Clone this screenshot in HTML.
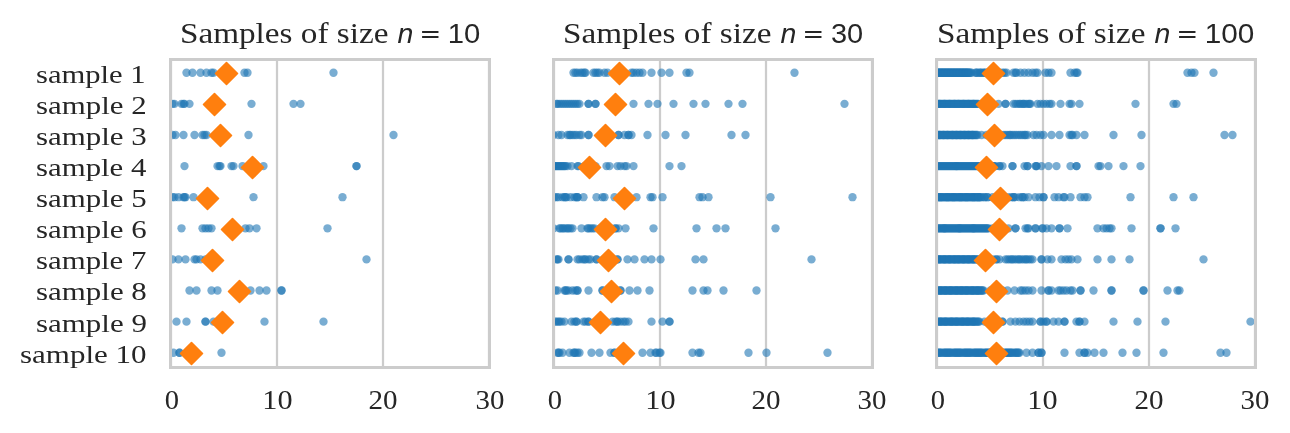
<!DOCTYPE html><html><head><meta charset="utf-8"><title>Samples</title><style>html,body{margin:0;padding:0;background:#fff;overflow:hidden;}svg{display:block;will-change:transform;}</style></head><body>
<svg width="1290" height="433" viewBox="0 0 1290 433">
<rect width="1290" height="433" fill="#fff"/>
<defs>
<clipPath id="c0"><rect x="170.056" y="59.67" width="319.118" height="308.0"/></clipPath>
<clipPath id="c1"><rect x="553.0" y="59.67" width="319.100" height="308.0"/></clipPath>
<clipPath id="c2"><rect x="935.94" y="59.67" width="319.120" height="308.0"/></clipPath>
</defs>
<g shape-rendering="crispEdges">
<rect x="554" y="58" width="1" height="1" fill="#cdcdcd"/>
<rect x="872" y="58" width="1" height="1" fill="#cccccc"/>
<rect x="170" y="58" width="1" height="1" fill="#cccccc"/>
<rect x="169" y="58" width="1" height="1" fill="#cecece"/>
<rect x="936" y="58" width="1" height="1" fill="#cccccc"/>
<rect x="938" y="58" width="316" height="1" fill="#d1d1d1"/>
<rect x="490" y="58" width="1" height="1" fill="#cecece"/>
<rect x="489" y="58" width="1" height="1" fill="#cccccc"/>
<rect x="935" y="58" width="1" height="1" fill="#cecece"/>
<rect x="937" y="58" width="1" height="1" fill="#cdcdcd"/>
<rect x="488" y="58" width="1" height="1" fill="#cdcdcd"/>
<rect x="552" y="58" width="1" height="1" fill="#cecece"/>
<rect x="171" y="58" width="1" height="1" fill="#cdcdcd"/>
<rect x="1254" y="58" width="1" height="1" fill="#cdcdcd"/>
<rect x="1256" y="58" width="1" height="1" fill="#cecece"/>
<rect x="553" y="58" width="1" height="1" fill="#cccccc"/>
<rect x="1255" y="58" width="1" height="1" fill="#cccccc"/>
<rect x="555" y="58" width="316" height="1" fill="#d1d1d1"/>
<rect x="871" y="58" width="1" height="1" fill="#cdcdcd"/>
<rect x="172" y="58" width="316" height="1" fill="#d1d1d1"/>
<rect x="873" y="58" width="1" height="1" fill="#cecece"/>
<rect x="935" y="59" width="322" height="1" fill="#cccccc"/>
<rect x="169" y="59" width="322" height="1" fill="#cccccc"/>
<rect x="552" y="59" width="322" height="1" fill="#cccccc"/>
<rect x="1147" y="60" width="1" height="1" fill="#d0d0d0"/>
<rect x="764" y="60" width="1" height="1" fill="#d0d0d0"/>
<rect x="938" y="60" width="1" height="1" fill="#d0d0d0"/>
<rect x="556" y="60" width="102" height="1" fill="#d1d1d1"/>
<rect x="385" y="60" width="102" height="1" fill="#d1d1d1"/>
<rect x="278" y="60" width="1" height="1" fill="#d0d0d0"/>
<rect x="1253" y="60" width="1" height="1" fill="#d0d0d0"/>
<rect x="1044" y="60" width="1" height="1" fill="#d0d0d0"/>
<rect x="384" y="60" width="1" height="1" fill="#d0d0d0"/>
<rect x="662" y="60" width="102" height="1" fill="#d1d1d1"/>
<rect x="381" y="60" width="1" height="1" fill="#d0d0d0"/>
<rect x="1150" y="60" width="1" height="1" fill="#d0d0d0"/>
<rect x="173" y="60" width="102" height="1" fill="#d1d1d1"/>
<rect x="172" y="60" width="1" height="1" fill="#d0d0d0"/>
<rect x="661" y="60" width="1" height="1" fill="#d0d0d0"/>
<rect x="169" y="60" width="1" height="1" fill="#cdcdcd"/>
<rect x="279" y="60" width="102" height="1" fill="#d1d1d1"/>
<rect x="935" y="60" width="1" height="1" fill="#cdcdcd"/>
<rect x="767" y="60" width="1" height="1" fill="#d0d0d0"/>
<rect x="768" y="60" width="102" height="1" fill="#d1d1d1"/>
<rect x="870" y="60" width="1" height="1" fill="#d0d0d0"/>
<rect x="1045" y="60" width="102" height="1" fill="#d1d1d1"/>
<rect x="939" y="60" width="102" height="1" fill="#d1d1d1"/>
<rect x="275" y="60" width="1" height="1" fill="#d0d0d0"/>
<rect x="552" y="60" width="1" height="1" fill="#cdcdcd"/>
<rect x="487" y="60" width="1" height="1" fill="#d0d0d0"/>
<rect x="1256" y="60" width="1" height="1" fill="#cdcdcd"/>
<rect x="555" y="60" width="1" height="1" fill="#d0d0d0"/>
<rect x="873" y="60" width="1" height="1" fill="#cdcdcd"/>
<rect x="1151" y="60" width="102" height="1" fill="#d1d1d1"/>
<rect x="658" y="60" width="1" height="1" fill="#d0d0d0"/>
<rect x="490" y="60" width="1" height="1" fill="#cdcdcd"/>
<rect x="1041" y="60" width="1" height="1" fill="#d0d0d0"/>
<rect x="870" y="61" width="1" height="305" fill="#f9f9f9"/>
<rect x="767" y="61" width="1" height="305" fill="#f9f9f9"/>
<rect x="169" y="61" width="1" height="305" fill="#d1d1d1"/>
<rect x="275" y="61" width="1" height="305" fill="#f9f9f9"/>
<rect x="935" y="61" width="1" height="305" fill="#d1d1d1"/>
<rect x="487" y="61" width="1" height="305" fill="#f9f9f9"/>
<rect x="552" y="61" width="1" height="305" fill="#d1d1d1"/>
<rect x="555" y="61" width="1" height="305" fill="#f9f9f9"/>
<rect x="1256" y="61" width="1" height="305" fill="#d1d1d1"/>
<rect x="658" y="61" width="1" height="305" fill="#f9f9f9"/>
<rect x="873" y="61" width="1" height="305" fill="#d1d1d1"/>
<rect x="1041" y="61" width="1" height="305" fill="#f9f9f9"/>
<rect x="490" y="61" width="1" height="305" fill="#d1d1d1"/>
<rect x="1147" y="61" width="1" height="305" fill="#f9f9f9"/>
<rect x="764" y="61" width="1" height="305" fill="#f9f9f9"/>
<rect x="938" y="61" width="1" height="305" fill="#f9f9f9"/>
<rect x="278" y="61" width="1" height="305" fill="#f9f9f9"/>
<rect x="1253" y="61" width="1" height="305" fill="#f9f9f9"/>
<rect x="1044" y="61" width="1" height="305" fill="#f9f9f9"/>
<rect x="384" y="61" width="1" height="305" fill="#f9f9f9"/>
<rect x="172" y="61" width="1" height="305" fill="#f9f9f9"/>
<rect x="661" y="61" width="1" height="305" fill="#f9f9f9"/>
<rect x="381" y="61" width="1" height="305" fill="#f9f9f9"/>
<rect x="1150" y="61" width="1" height="305" fill="#f9f9f9"/>
<rect x="659" y="60" width="2" height="307" fill="#cccccc"/>
<rect x="1147" y="366" width="1" height="1" fill="#d0d0d0"/>
<rect x="764" y="366" width="1" height="1" fill="#d0d0d0"/>
<rect x="938" y="366" width="1" height="1" fill="#d0d0d0"/>
<rect x="556" y="366" width="102" height="1" fill="#d1d1d1"/>
<rect x="385" y="366" width="102" height="1" fill="#d1d1d1"/>
<rect x="278" y="366" width="1" height="1" fill="#d0d0d0"/>
<rect x="1253" y="366" width="1" height="1" fill="#d0d0d0"/>
<rect x="1042" y="60" width="2" height="307" fill="#cccccc"/>
<rect x="1044" y="366" width="1" height="1" fill="#d0d0d0"/>
<rect x="382" y="60" width="2" height="307" fill="#cccccc"/>
<rect x="384" y="366" width="1" height="1" fill="#d0d0d0"/>
<rect x="662" y="366" width="102" height="1" fill="#d1d1d1"/>
<rect x="381" y="366" width="1" height="1" fill="#d0d0d0"/>
<rect x="1148" y="60" width="2" height="307" fill="#cccccc"/>
<rect x="1150" y="366" width="1" height="1" fill="#d0d0d0"/>
<rect x="173" y="366" width="102" height="1" fill="#d1d1d1"/>
<rect x="172" y="366" width="1" height="1" fill="#d0d0d0"/>
<rect x="661" y="366" width="1" height="1" fill="#d0d0d0"/>
<rect x="488" y="60" width="2" height="307" fill="#cccccc"/>
<rect x="169" y="366" width="1" height="1" fill="#cdcdcd"/>
<rect x="279" y="366" width="102" height="1" fill="#d1d1d1"/>
<rect x="935" y="366" width="1" height="1" fill="#cdcdcd"/>
<rect x="767" y="366" width="1" height="1" fill="#d0d0d0"/>
<rect x="768" y="366" width="102" height="1" fill="#d1d1d1"/>
<rect x="870" y="366" width="1" height="1" fill="#d0d0d0"/>
<rect x="1045" y="366" width="102" height="1" fill="#d1d1d1"/>
<rect x="1041" y="366" width="1" height="1" fill="#d0d0d0"/>
<rect x="275" y="366" width="1" height="1" fill="#d0d0d0"/>
<rect x="936" y="60" width="2" height="307" fill="#cccccc"/>
<rect x="552" y="366" width="1" height="1" fill="#cdcdcd"/>
<rect x="487" y="366" width="1" height="1" fill="#d0d0d0"/>
<rect x="276" y="60" width="2" height="307" fill="#cccccc"/>
<rect x="1256" y="366" width="1" height="1" fill="#cdcdcd"/>
<rect x="553" y="60" width="2" height="307" fill="#cccccc"/>
<rect x="555" y="366" width="1" height="1" fill="#d0d0d0"/>
<rect x="765" y="60" width="2" height="307" fill="#cccccc"/>
<rect x="873" y="366" width="1" height="1" fill="#cdcdcd"/>
<rect x="1254" y="60" width="2" height="307" fill="#cccccc"/>
<rect x="871" y="60" width="2" height="307" fill="#cccccc"/>
<rect x="1151" y="366" width="102" height="1" fill="#d1d1d1"/>
<rect x="170" y="60" width="2" height="307" fill="#cccccc"/>
<rect x="658" y="366" width="1" height="1" fill="#d0d0d0"/>
<rect x="490" y="366" width="1" height="1" fill="#cdcdcd"/>
<rect x="939" y="366" width="102" height="1" fill="#d1d1d1"/>
<rect x="935" y="367" width="322" height="1" fill="#cccccc"/>
<rect x="169" y="367" width="322" height="1" fill="#cccccc"/>
<rect x="552" y="367" width="322" height="1" fill="#cccccc"/>
<rect x="554" y="368" width="1" height="1" fill="#cdcdcd"/>
<rect x="872" y="368" width="1" height="1" fill="#cccccc"/>
<rect x="170" y="368" width="1" height="1" fill="#cccccc"/>
<rect x="169" y="368" width="1" height="1" fill="#cecece"/>
<rect x="936" y="368" width="1" height="1" fill="#cccccc"/>
<rect x="938" y="368" width="316" height="1" fill="#d1d1d1"/>
<rect x="490" y="368" width="1" height="1" fill="#cecece"/>
<rect x="489" y="368" width="1" height="1" fill="#cccccc"/>
<rect x="935" y="368" width="1" height="1" fill="#cecece"/>
<rect x="937" y="368" width="1" height="1" fill="#cdcdcd"/>
<rect x="488" y="368" width="1" height="1" fill="#cdcdcd"/>
<rect x="552" y="368" width="1" height="1" fill="#cecece"/>
<rect x="171" y="368" width="1" height="1" fill="#cdcdcd"/>
<rect x="1254" y="368" width="1" height="1" fill="#cdcdcd"/>
<rect x="1256" y="368" width="1" height="1" fill="#cecece"/>
<rect x="553" y="368" width="1" height="1" fill="#cccccc"/>
<rect x="1255" y="368" width="1" height="1" fill="#cccccc"/>
<rect x="555" y="368" width="316" height="1" fill="#d1d1d1"/>
<rect x="871" y="368" width="1" height="1" fill="#cdcdcd"/>
<rect x="172" y="368" width="316" height="1" fill="#d1d1d1"/>
<rect x="873" y="368" width="1" height="1" fill="#cecece"/>
</g>
<g clip-path="url(#c0)">
<g fill="#1f77b4" fill-opacity="0.6">
<circle cx="186.5" cy="72.75" r="4.1667"/>
<circle cx="192.5" cy="72.75" r="4.1667"/>
<circle cx="200.5" cy="72.75" r="4.1667"/>
<circle cx="206.5" cy="72.75" r="4.1667"/>
<circle cx="211.5" cy="72.75" r="4.1667"/>
<circle cx="213.5" cy="72.75" r="4.1667"/>
<circle cx="226.5" cy="72.75" r="4.1667"/>
<circle cx="244.5" cy="72.75" r="4.1667"/>
<circle cx="247.5" cy="72.75" r="4.1667"/>
<circle cx="333.5" cy="72.75" r="4.1667"/>
<circle cx="172.5" cy="103.86" r="4.1667"/>
<circle cx="174.5" cy="103.86" r="4.1667"/>
<circle cx="181.5" cy="103.86" r="4.1667"/>
<circle cx="183.5" cy="103.86" r="4.1667"/>
<circle cx="184.5" cy="103.86" r="4.1667"/>
<circle cx="189.5" cy="103.86" r="4.1667"/>
<circle cx="214.5" cy="103.86" r="4.1667"/>
<circle cx="251.5" cy="103.86" r="4.1667"/>
<circle cx="293.5" cy="103.86" r="4.1667"/>
<circle cx="300.5" cy="103.86" r="4.1667"/>
<circle cx="172.5" cy="134.97" r="4.1667"/>
<circle cx="175.5" cy="134.97" r="4.1667"/>
<circle cx="183.5" cy="134.97" r="4.1667"/>
<circle cx="194.5" cy="134.97" r="4.1667"/>
<circle cx="202.5" cy="134.97" r="4.1667"/>
<circle cx="204.5" cy="134.97" r="4.1667"/>
<circle cx="206.5" cy="134.97" r="4.1667"/>
<circle cx="220.5" cy="134.97" r="4.1667"/>
<circle cx="248.5" cy="134.97" r="4.1667"/>
<circle cx="393.5" cy="134.97" r="4.1667"/>
<circle cx="184.5" cy="166.08" r="4.1667"/>
<circle cx="217.5" cy="166.08" r="4.1667"/>
<circle cx="219.5" cy="166.08" r="4.1667"/>
<circle cx="220.5" cy="166.08" r="4.1667"/>
<circle cx="231.5" cy="166.08" r="4.1667"/>
<circle cx="233.5" cy="166.08" r="4.1667"/>
<circle cx="242.5" cy="166.08" r="4.1667"/>
<circle cx="263.5" cy="166.08" r="4.1667"/>
<circle cx="356.5" cy="166.08" r="4.1667"/>
<circle cx="356.5" cy="166.08" r="4.1667"/>
<circle cx="172.5" cy="197.19" r="4.1667"/>
<circle cx="174.5" cy="197.19" r="4.1667"/>
<circle cx="178.5" cy="197.19" r="4.1667"/>
<circle cx="183.5" cy="197.19" r="4.1667"/>
<circle cx="184.5" cy="197.19" r="4.1667"/>
<circle cx="185.5" cy="197.19" r="4.1667"/>
<circle cx="193.5" cy="197.19" r="4.1667"/>
<circle cx="207.5" cy="197.19" r="4.1667"/>
<circle cx="253.5" cy="197.19" r="4.1667"/>
<circle cx="342.5" cy="197.19" r="4.1667"/>
<circle cx="181.5" cy="228.31" r="4.1667"/>
<circle cx="202.5" cy="228.31" r="4.1667"/>
<circle cx="205.5" cy="228.31" r="4.1667"/>
<circle cx="208.5" cy="228.31" r="4.1667"/>
<circle cx="211.5" cy="228.31" r="4.1667"/>
<circle cx="232.5" cy="228.31" r="4.1667"/>
<circle cx="245.5" cy="228.31" r="4.1667"/>
<circle cx="249.5" cy="228.31" r="4.1667"/>
<circle cx="256.5" cy="228.31" r="4.1667"/>
<circle cx="327.5" cy="228.31" r="4.1667"/>
<circle cx="172.5" cy="259.42" r="4.1667"/>
<circle cx="178.5" cy="259.42" r="4.1667"/>
<circle cx="185.5" cy="259.42" r="4.1667"/>
<circle cx="194.5" cy="259.42" r="4.1667"/>
<circle cx="196.5" cy="259.42" r="4.1667"/>
<circle cx="200.5" cy="259.42" r="4.1667"/>
<circle cx="205.5" cy="259.42" r="4.1667"/>
<circle cx="212.5" cy="259.42" r="4.1667"/>
<circle cx="215.5" cy="259.42" r="4.1667"/>
<circle cx="366.5" cy="259.42" r="4.1667"/>
<circle cx="189.5" cy="290.53" r="4.1667"/>
<circle cx="196.5" cy="290.53" r="4.1667"/>
<circle cx="211.5" cy="290.53" r="4.1667"/>
<circle cx="217.5" cy="290.53" r="4.1667"/>
<circle cx="239.5" cy="290.53" r="4.1667"/>
<circle cx="250.5" cy="290.53" r="4.1667"/>
<circle cx="259.5" cy="290.53" r="4.1667"/>
<circle cx="266.5" cy="290.53" r="4.1667"/>
<circle cx="281.5" cy="290.53" r="4.1667"/>
<circle cx="281.5" cy="290.53" r="4.1667"/>
<circle cx="176.5" cy="321.64" r="4.1667"/>
<circle cx="186.5" cy="321.64" r="4.1667"/>
<circle cx="205.5" cy="321.64" r="4.1667"/>
<circle cx="205.5" cy="321.64" r="4.1667"/>
<circle cx="213.5" cy="321.64" r="4.1667"/>
<circle cx="222.5" cy="321.64" r="4.1667"/>
<circle cx="264.5" cy="321.64" r="4.1667"/>
<circle cx="323.5" cy="321.64" r="4.1667"/>
<circle cx="173.5" cy="352.75" r="4.1667"/>
<circle cx="179.5" cy="352.75" r="4.1667"/>
<circle cx="179.5" cy="352.75" r="4.1667"/>
<circle cx="188.5" cy="352.75" r="4.1667"/>
<circle cx="192.5" cy="352.75" r="4.1667"/>
<circle cx="195.5" cy="352.75" r="4.1667"/>
<circle cx="221.5" cy="352.75" r="4.1667"/>
</g><g fill="#ff7f0e" stroke="#ff7f0e" stroke-width="1.6" stroke-linejoin="round">
<path d="M226.5 62.50L237.50 73.5L226.5 84.50L215.50 73.5Z"/>
<path d="M214.5 93.50L225.50 104.5L214.5 115.50L203.50 104.5Z"/>
<path d="M220.5 124.50L231.50 135.5L220.5 146.50L209.50 135.5Z"/>
<path d="M252.5 156.50L263.50 167.5L252.5 178.50L241.50 167.5Z"/>
<path d="M207.5 187.50L218.50 198.5L207.5 209.50L196.50 198.5Z"/>
<path d="M232.5 218.50L243.50 229.5L232.5 240.50L221.50 229.5Z"/>
<path d="M212.5 249.50L223.50 260.5L212.5 271.50L201.50 260.5Z"/>
<path d="M239.5 280.50L250.50 291.5L239.5 302.50L228.50 291.5Z"/>
<path d="M222.5 311.50L233.50 322.5L222.5 333.50L211.50 322.5Z"/>
<path d="M191.5 342.50L202.50 353.5L191.5 364.50L180.50 353.5Z"/>
</g></g>
<g clip-path="url(#c1)">
<g fill="#1f77b4" fill-opacity="0.6">
<circle cx="573.5" cy="72.75" r="4.1667"/>
<circle cx="575.5" cy="72.75" r="4.1667"/>
<circle cx="577.5" cy="72.75" r="4.1667"/>
<circle cx="580.5" cy="72.75" r="4.1667"/>
<circle cx="582.5" cy="72.75" r="4.1667"/>
<circle cx="584.5" cy="72.75" r="4.1667"/>
<circle cx="585.5" cy="72.75" r="4.1667"/>
<circle cx="593.5" cy="72.75" r="4.1667"/>
<circle cx="595.5" cy="72.75" r="4.1667"/>
<circle cx="597.5" cy="72.75" r="4.1667"/>
<circle cx="599.5" cy="72.75" r="4.1667"/>
<circle cx="604.5" cy="72.75" r="4.1667"/>
<circle cx="607.5" cy="72.75" r="4.1667"/>
<circle cx="615.5" cy="72.75" r="4.1667"/>
<circle cx="617.5" cy="72.75" r="4.1667"/>
<circle cx="622.5" cy="72.75" r="4.1667"/>
<circle cx="624.5" cy="72.75" r="4.1667"/>
<circle cx="631.5" cy="72.75" r="4.1667"/>
<circle cx="633.5" cy="72.75" r="4.1667"/>
<circle cx="636.5" cy="72.75" r="4.1667"/>
<circle cx="639.5" cy="72.75" r="4.1667"/>
<circle cx="642.5" cy="72.75" r="4.1667"/>
<circle cx="651.5" cy="72.75" r="4.1667"/>
<circle cx="661.5" cy="72.75" r="4.1667"/>
<circle cx="669.5" cy="72.75" r="4.1667"/>
<circle cx="686.5" cy="72.75" r="4.1667"/>
<circle cx="689.5" cy="72.75" r="4.1667"/>
<circle cx="794.5" cy="72.75" r="4.1667"/>
<circle cx="556.5" cy="103.86" r="4.1667"/>
<circle cx="557.5" cy="103.86" r="4.1667"/>
<circle cx="559.5" cy="103.86" r="4.1667"/>
<circle cx="561.5" cy="103.86" r="4.1667"/>
<circle cx="563.5" cy="103.86" r="4.1667"/>
<circle cx="565.5" cy="103.86" r="4.1667"/>
<circle cx="567.5" cy="103.86" r="4.1667"/>
<circle cx="569.5" cy="103.86" r="4.1667"/>
<circle cx="571.5" cy="103.86" r="4.1667"/>
<circle cx="573.5" cy="103.86" r="4.1667"/>
<circle cx="575.5" cy="103.86" r="4.1667"/>
<circle cx="577.5" cy="103.86" r="4.1667"/>
<circle cx="579.5" cy="103.86" r="4.1667"/>
<circle cx="588.5" cy="103.86" r="4.1667"/>
<circle cx="588.5" cy="103.86" r="4.1667"/>
<circle cx="595.5" cy="103.86" r="4.1667"/>
<circle cx="595.5" cy="103.86" r="4.1667"/>
<circle cx="612.5" cy="103.86" r="4.1667"/>
<circle cx="618.5" cy="103.86" r="4.1667"/>
<circle cx="633.5" cy="103.86" r="4.1667"/>
<circle cx="648.5" cy="103.86" r="4.1667"/>
<circle cx="657.5" cy="103.86" r="4.1667"/>
<circle cx="673.5" cy="103.86" r="4.1667"/>
<circle cx="693.5" cy="103.86" r="4.1667"/>
<circle cx="705.5" cy="103.86" r="4.1667"/>
<circle cx="728.5" cy="103.86" r="4.1667"/>
<circle cx="742.5" cy="103.86" r="4.1667"/>
<circle cx="844.5" cy="103.86" r="4.1667"/>
<circle cx="553.5" cy="134.97" r="4.1667"/>
<circle cx="558.5" cy="134.97" r="4.1667"/>
<circle cx="561.5" cy="134.97" r="4.1667"/>
<circle cx="567.5" cy="134.97" r="4.1667"/>
<circle cx="569.5" cy="134.97" r="4.1667"/>
<circle cx="570.5" cy="134.97" r="4.1667"/>
<circle cx="572.5" cy="134.97" r="4.1667"/>
<circle cx="574.5" cy="134.97" r="4.1667"/>
<circle cx="576.5" cy="134.97" r="4.1667"/>
<circle cx="579.5" cy="134.97" r="4.1667"/>
<circle cx="581.5" cy="134.97" r="4.1667"/>
<circle cx="588.5" cy="134.97" r="4.1667"/>
<circle cx="588.5" cy="134.97" r="4.1667"/>
<circle cx="601.5" cy="134.97" r="4.1667"/>
<circle cx="603.5" cy="134.97" r="4.1667"/>
<circle cx="610.5" cy="134.97" r="4.1667"/>
<circle cx="618.5" cy="134.97" r="4.1667"/>
<circle cx="618.5" cy="134.97" r="4.1667"/>
<circle cx="624.5" cy="134.97" r="4.1667"/>
<circle cx="628.5" cy="134.97" r="4.1667"/>
<circle cx="628.5" cy="134.97" r="4.1667"/>
<circle cx="631.5" cy="134.97" r="4.1667"/>
<circle cx="647.5" cy="134.97" r="4.1667"/>
<circle cx="665.5" cy="134.97" r="4.1667"/>
<circle cx="685.5" cy="134.97" r="4.1667"/>
<circle cx="731.5" cy="134.97" r="4.1667"/>
<circle cx="745.5" cy="134.97" r="4.1667"/>
<circle cx="553.5" cy="166.08" r="4.1667"/>
<circle cx="554.5" cy="166.08" r="4.1667"/>
<circle cx="555.5" cy="166.08" r="4.1667"/>
<circle cx="556.5" cy="166.08" r="4.1667"/>
<circle cx="557.5" cy="166.08" r="4.1667"/>
<circle cx="558.5" cy="166.08" r="4.1667"/>
<circle cx="559.5" cy="166.08" r="4.1667"/>
<circle cx="560.5" cy="166.08" r="4.1667"/>
<circle cx="561.5" cy="166.08" r="4.1667"/>
<circle cx="562.5" cy="166.08" r="4.1667"/>
<circle cx="563.5" cy="166.08" r="4.1667"/>
<circle cx="564.5" cy="166.08" r="4.1667"/>
<circle cx="565.5" cy="166.08" r="4.1667"/>
<circle cx="567.5" cy="166.08" r="4.1667"/>
<circle cx="571.5" cy="166.08" r="4.1667"/>
<circle cx="577.5" cy="166.08" r="4.1667"/>
<circle cx="578.5" cy="166.08" r="4.1667"/>
<circle cx="584.5" cy="166.08" r="4.1667"/>
<circle cx="590.5" cy="166.08" r="4.1667"/>
<circle cx="595.5" cy="166.08" r="4.1667"/>
<circle cx="606.5" cy="166.08" r="4.1667"/>
<circle cx="609.5" cy="166.08" r="4.1667"/>
<circle cx="617.5" cy="166.08" r="4.1667"/>
<circle cx="620.5" cy="166.08" r="4.1667"/>
<circle cx="624.5" cy="166.08" r="4.1667"/>
<circle cx="626.5" cy="166.08" r="4.1667"/>
<circle cx="633.5" cy="166.08" r="4.1667"/>
<circle cx="669.5" cy="166.08" r="4.1667"/>
<circle cx="681.5" cy="166.08" r="4.1667"/>
<circle cx="554.5" cy="197.19" r="4.1667"/>
<circle cx="556.5" cy="197.19" r="4.1667"/>
<circle cx="558.5" cy="197.19" r="4.1667"/>
<circle cx="562.5" cy="197.19" r="4.1667"/>
<circle cx="564.5" cy="197.19" r="4.1667"/>
<circle cx="565.5" cy="197.19" r="4.1667"/>
<circle cx="566.5" cy="197.19" r="4.1667"/>
<circle cx="570.5" cy="197.19" r="4.1667"/>
<circle cx="574.5" cy="197.19" r="4.1667"/>
<circle cx="576.5" cy="197.19" r="4.1667"/>
<circle cx="577.5" cy="197.19" r="4.1667"/>
<circle cx="577.5" cy="197.19" r="4.1667"/>
<circle cx="583.5" cy="197.19" r="4.1667"/>
<circle cx="596.5" cy="197.19" r="4.1667"/>
<circle cx="602.5" cy="197.19" r="4.1667"/>
<circle cx="604.5" cy="197.19" r="4.1667"/>
<circle cx="614.5" cy="197.19" r="4.1667"/>
<circle cx="620.5" cy="197.19" r="4.1667"/>
<circle cx="628.5" cy="197.19" r="4.1667"/>
<circle cx="636.5" cy="197.19" r="4.1667"/>
<circle cx="650.5" cy="197.19" r="4.1667"/>
<circle cx="652.5" cy="197.19" r="4.1667"/>
<circle cx="662.5" cy="197.19" r="4.1667"/>
<circle cx="699.5" cy="197.19" r="4.1667"/>
<circle cx="702.5" cy="197.19" r="4.1667"/>
<circle cx="708.5" cy="197.19" r="4.1667"/>
<circle cx="770.5" cy="197.19" r="4.1667"/>
<circle cx="852.5" cy="197.19" r="4.1667"/>
<circle cx="553.5" cy="228.31" r="4.1667"/>
<circle cx="559.5" cy="228.31" r="4.1667"/>
<circle cx="560.5" cy="228.31" r="4.1667"/>
<circle cx="562.5" cy="228.31" r="4.1667"/>
<circle cx="563.5" cy="228.31" r="4.1667"/>
<circle cx="565.5" cy="228.31" r="4.1667"/>
<circle cx="567.5" cy="228.31" r="4.1667"/>
<circle cx="568.5" cy="228.31" r="4.1667"/>
<circle cx="570.5" cy="228.31" r="4.1667"/>
<circle cx="572.5" cy="228.31" r="4.1667"/>
<circle cx="581.5" cy="228.31" r="4.1667"/>
<circle cx="587.5" cy="228.31" r="4.1667"/>
<circle cx="588.5" cy="228.31" r="4.1667"/>
<circle cx="590.5" cy="228.31" r="4.1667"/>
<circle cx="592.5" cy="228.31" r="4.1667"/>
<circle cx="594.5" cy="228.31" r="4.1667"/>
<circle cx="600.5" cy="228.31" r="4.1667"/>
<circle cx="605.5" cy="228.31" r="4.1667"/>
<circle cx="610.5" cy="228.31" r="4.1667"/>
<circle cx="615.5" cy="228.31" r="4.1667"/>
<circle cx="615.5" cy="228.31" r="4.1667"/>
<circle cx="618.5" cy="228.31" r="4.1667"/>
<circle cx="625.5" cy="228.31" r="4.1667"/>
<circle cx="653.5" cy="228.31" r="4.1667"/>
<circle cx="696.5" cy="228.31" r="4.1667"/>
<circle cx="716.5" cy="228.31" r="4.1667"/>
<circle cx="725.5" cy="228.31" r="4.1667"/>
<circle cx="775.5" cy="228.31" r="4.1667"/>
<circle cx="556.5" cy="259.42" r="4.1667"/>
<circle cx="557.5" cy="259.42" r="4.1667"/>
<circle cx="558.5" cy="259.42" r="4.1667"/>
<circle cx="568.5" cy="259.42" r="4.1667"/>
<circle cx="568.5" cy="259.42" r="4.1667"/>
<circle cx="577.5" cy="259.42" r="4.1667"/>
<circle cx="579.5" cy="259.42" r="4.1667"/>
<circle cx="582.5" cy="259.42" r="4.1667"/>
<circle cx="584.5" cy="259.42" r="4.1667"/>
<circle cx="585.5" cy="259.42" r="4.1667"/>
<circle cx="588.5" cy="259.42" r="4.1667"/>
<circle cx="590.5" cy="259.42" r="4.1667"/>
<circle cx="596.5" cy="259.42" r="4.1667"/>
<circle cx="596.5" cy="259.42" r="4.1667"/>
<circle cx="603.5" cy="259.42" r="4.1667"/>
<circle cx="613.5" cy="259.42" r="4.1667"/>
<circle cx="617.5" cy="259.42" r="4.1667"/>
<circle cx="617.5" cy="259.42" r="4.1667"/>
<circle cx="627.5" cy="259.42" r="4.1667"/>
<circle cx="634.5" cy="259.42" r="4.1667"/>
<circle cx="644.5" cy="259.42" r="4.1667"/>
<circle cx="651.5" cy="259.42" r="4.1667"/>
<circle cx="660.5" cy="259.42" r="4.1667"/>
<circle cx="695.5" cy="259.42" r="4.1667"/>
<circle cx="703.5" cy="259.42" r="4.1667"/>
<circle cx="811.5" cy="259.42" r="4.1667"/>
<circle cx="555.5" cy="290.53" r="4.1667"/>
<circle cx="557.5" cy="290.53" r="4.1667"/>
<circle cx="564.5" cy="290.53" r="4.1667"/>
<circle cx="565.5" cy="290.53" r="4.1667"/>
<circle cx="566.5" cy="290.53" r="4.1667"/>
<circle cx="568.5" cy="290.53" r="4.1667"/>
<circle cx="572.5" cy="290.53" r="4.1667"/>
<circle cx="575.5" cy="290.53" r="4.1667"/>
<circle cx="577.5" cy="290.53" r="4.1667"/>
<circle cx="577.5" cy="290.53" r="4.1667"/>
<circle cx="588.5" cy="290.53" r="4.1667"/>
<circle cx="602.5" cy="290.53" r="4.1667"/>
<circle cx="602.5" cy="290.53" r="4.1667"/>
<circle cx="608.5" cy="290.53" r="4.1667"/>
<circle cx="615.5" cy="290.53" r="4.1667"/>
<circle cx="620.5" cy="290.53" r="4.1667"/>
<circle cx="620.5" cy="290.53" r="4.1667"/>
<circle cx="629.5" cy="290.53" r="4.1667"/>
<circle cx="637.5" cy="290.53" r="4.1667"/>
<circle cx="649.5" cy="290.53" r="4.1667"/>
<circle cx="692.5" cy="290.53" r="4.1667"/>
<circle cx="703.5" cy="290.53" r="4.1667"/>
<circle cx="707.5" cy="290.53" r="4.1667"/>
<circle cx="723.5" cy="290.53" r="4.1667"/>
<circle cx="756.5" cy="290.53" r="4.1667"/>
<circle cx="555.5" cy="321.64" r="4.1667"/>
<circle cx="556.5" cy="321.64" r="4.1667"/>
<circle cx="558.5" cy="321.64" r="4.1667"/>
<circle cx="559.5" cy="321.64" r="4.1667"/>
<circle cx="561.5" cy="321.64" r="4.1667"/>
<circle cx="564.5" cy="321.64" r="4.1667"/>
<circle cx="571.5" cy="321.64" r="4.1667"/>
<circle cx="574.5" cy="321.64" r="4.1667"/>
<circle cx="576.5" cy="321.64" r="4.1667"/>
<circle cx="576.5" cy="321.64" r="4.1667"/>
<circle cx="583.5" cy="321.64" r="4.1667"/>
<circle cx="585.5" cy="321.64" r="4.1667"/>
<circle cx="588.5" cy="321.64" r="4.1667"/>
<circle cx="588.5" cy="321.64" r="4.1667"/>
<circle cx="595.5" cy="321.64" r="4.1667"/>
<circle cx="605.5" cy="321.64" r="4.1667"/>
<circle cx="612.5" cy="321.64" r="4.1667"/>
<circle cx="615.5" cy="321.64" r="4.1667"/>
<circle cx="617.5" cy="321.64" r="4.1667"/>
<circle cx="617.5" cy="321.64" r="4.1667"/>
<circle cx="620.5" cy="321.64" r="4.1667"/>
<circle cx="623.5" cy="321.64" r="4.1667"/>
<circle cx="625.5" cy="321.64" r="4.1667"/>
<circle cx="628.5" cy="321.64" r="4.1667"/>
<circle cx="651.5" cy="321.64" r="4.1667"/>
<circle cx="662.5" cy="321.64" r="4.1667"/>
<circle cx="669.5" cy="321.64" r="4.1667"/>
<circle cx="669.5" cy="321.64" r="4.1667"/>
<circle cx="557.5" cy="352.75" r="4.1667"/>
<circle cx="558.5" cy="352.75" r="4.1667"/>
<circle cx="559.5" cy="352.75" r="4.1667"/>
<circle cx="562.5" cy="352.75" r="4.1667"/>
<circle cx="569.5" cy="352.75" r="4.1667"/>
<circle cx="573.5" cy="352.75" r="4.1667"/>
<circle cx="574.5" cy="352.75" r="4.1667"/>
<circle cx="575.5" cy="352.75" r="4.1667"/>
<circle cx="577.5" cy="352.75" r="4.1667"/>
<circle cx="579.5" cy="352.75" r="4.1667"/>
<circle cx="591.5" cy="352.75" r="4.1667"/>
<circle cx="599.5" cy="352.75" r="4.1667"/>
<circle cx="610.5" cy="352.75" r="4.1667"/>
<circle cx="614.5" cy="352.75" r="4.1667"/>
<circle cx="614.5" cy="352.75" r="4.1667"/>
<circle cx="620.5" cy="352.75" r="4.1667"/>
<circle cx="628.5" cy="352.75" r="4.1667"/>
<circle cx="642.5" cy="352.75" r="4.1667"/>
<circle cx="650.5" cy="352.75" r="4.1667"/>
<circle cx="655.5" cy="352.75" r="4.1667"/>
<circle cx="656.5" cy="352.75" r="4.1667"/>
<circle cx="659.5" cy="352.75" r="4.1667"/>
<circle cx="660.5" cy="352.75" r="4.1667"/>
<circle cx="692.5" cy="352.75" r="4.1667"/>
<circle cx="698.5" cy="352.75" r="4.1667"/>
<circle cx="700.5" cy="352.75" r="4.1667"/>
<circle cx="748.5" cy="352.75" r="4.1667"/>
<circle cx="766.5" cy="352.75" r="4.1667"/>
<circle cx="827.5" cy="352.75" r="4.1667"/>
</g><g fill="#ff7f0e" stroke="#ff7f0e" stroke-width="1.6" stroke-linejoin="round">
<path d="M619.5 62.50L630.50 73.5L619.5 84.50L608.50 73.5Z"/>
<path d="M615.5 93.50L626.50 104.5L615.5 115.50L604.50 104.5Z"/>
<path d="M605.5 124.50L616.50 135.5L605.5 146.50L594.50 135.5Z"/>
<path d="M589.5 156.50L600.50 167.5L589.5 178.50L578.50 167.5Z"/>
<path d="M624.5 187.50L635.50 198.5L624.5 209.50L613.50 198.5Z"/>
<path d="M605.5 218.50L616.50 229.5L605.5 240.50L594.50 229.5Z"/>
<path d="M608.5 249.50L619.50 260.5L608.5 271.50L597.50 260.5Z"/>
<path d="M611.5 280.50L622.50 291.5L611.5 302.50L600.50 291.5Z"/>
<path d="M600.5 311.50L611.50 322.5L600.5 333.50L589.50 322.5Z"/>
<path d="M623.5 342.50L634.50 353.5L623.5 364.50L612.50 353.5Z"/>
</g></g>
<g clip-path="url(#c2)">
<g fill="#1f77b4" fill-opacity="0.6">
<circle cx="937.5" cy="72.75" r="4.1667"/>
<circle cx="938.5" cy="72.75" r="4.1667"/>
<circle cx="938.5" cy="72.75" r="4.1667"/>
<circle cx="939.5" cy="72.75" r="4.1667"/>
<circle cx="939.5" cy="72.75" r="4.1667"/>
<circle cx="940.5" cy="72.75" r="4.1667"/>
<circle cx="941.5" cy="72.75" r="4.1667"/>
<circle cx="941.5" cy="72.75" r="4.1667"/>
<circle cx="942.5" cy="72.75" r="4.1667"/>
<circle cx="942.5" cy="72.75" r="4.1667"/>
<circle cx="943.5" cy="72.75" r="4.1667"/>
<circle cx="944.5" cy="72.75" r="4.1667"/>
<circle cx="944.5" cy="72.75" r="4.1667"/>
<circle cx="945.5" cy="72.75" r="4.1667"/>
<circle cx="945.5" cy="72.75" r="4.1667"/>
<circle cx="946.5" cy="72.75" r="4.1667"/>
<circle cx="947.5" cy="72.75" r="4.1667"/>
<circle cx="947.5" cy="72.75" r="4.1667"/>
<circle cx="948.5" cy="72.75" r="4.1667"/>
<circle cx="948.5" cy="72.75" r="4.1667"/>
<circle cx="949.5" cy="72.75" r="4.1667"/>
<circle cx="950.5" cy="72.75" r="4.1667"/>
<circle cx="950.5" cy="72.75" r="4.1667"/>
<circle cx="951.5" cy="72.75" r="4.1667"/>
<circle cx="951.5" cy="72.75" r="4.1667"/>
<circle cx="952.5" cy="72.75" r="4.1667"/>
<circle cx="953.5" cy="72.75" r="4.1667"/>
<circle cx="953.5" cy="72.75" r="4.1667"/>
<circle cx="954.5" cy="72.75" r="4.1667"/>
<circle cx="954.5" cy="72.75" r="4.1667"/>
<circle cx="955.5" cy="72.75" r="4.1667"/>
<circle cx="956.5" cy="72.75" r="4.1667"/>
<circle cx="956.5" cy="72.75" r="4.1667"/>
<circle cx="957.5" cy="72.75" r="4.1667"/>
<circle cx="957.5" cy="72.75" r="4.1667"/>
<circle cx="958.5" cy="72.75" r="4.1667"/>
<circle cx="959.5" cy="72.75" r="4.1667"/>
<circle cx="959.5" cy="72.75" r="4.1667"/>
<circle cx="960.5" cy="72.75" r="4.1667"/>
<circle cx="960.5" cy="72.75" r="4.1667"/>
<circle cx="961.5" cy="72.75" r="4.1667"/>
<circle cx="962.5" cy="72.75" r="4.1667"/>
<circle cx="962.5" cy="72.75" r="4.1667"/>
<circle cx="963.5" cy="72.75" r="4.1667"/>
<circle cx="963.5" cy="72.75" r="4.1667"/>
<circle cx="964.5" cy="72.75" r="4.1667"/>
<circle cx="965.5" cy="72.75" r="4.1667"/>
<circle cx="965.5" cy="72.75" r="4.1667"/>
<circle cx="966.5" cy="72.75" r="4.1667"/>
<circle cx="966.5" cy="72.75" r="4.1667"/>
<circle cx="967.5" cy="72.75" r="4.1667"/>
<circle cx="968.5" cy="72.75" r="4.1667"/>
<circle cx="968.5" cy="72.75" r="4.1667"/>
<circle cx="969.5" cy="72.75" r="4.1667"/>
<circle cx="970.5" cy="72.75" r="4.1667"/>
<circle cx="971.5" cy="72.75" r="4.1667"/>
<circle cx="975.5" cy="72.75" r="4.1667"/>
<circle cx="977.5" cy="72.75" r="4.1667"/>
<circle cx="979.5" cy="72.75" r="4.1667"/>
<circle cx="981.5" cy="72.75" r="4.1667"/>
<circle cx="983.5" cy="72.75" r="4.1667"/>
<circle cx="985.5" cy="72.75" r="4.1667"/>
<circle cx="987.5" cy="72.75" r="4.1667"/>
<circle cx="991.5" cy="72.75" r="4.1667"/>
<circle cx="996.5" cy="72.75" r="4.1667"/>
<circle cx="999.5" cy="72.75" r="4.1667"/>
<circle cx="1002.5" cy="72.75" r="4.1667"/>
<circle cx="1004.5" cy="72.75" r="4.1667"/>
<circle cx="1006.5" cy="72.75" r="4.1667"/>
<circle cx="1015.5" cy="72.75" r="4.1667"/>
<circle cx="976.5" cy="72.75" r="4.1667"/>
<circle cx="980.5" cy="72.75" r="4.1667"/>
<circle cx="984.5" cy="72.75" r="4.1667"/>
<circle cx="1013.5" cy="72.75" r="4.1667"/>
<circle cx="1016.5" cy="72.75" r="4.1667"/>
<circle cx="1020.5" cy="72.75" r="4.1667"/>
<circle cx="1024.5" cy="72.75" r="4.1667"/>
<circle cx="1028.5" cy="72.75" r="4.1667"/>
<circle cx="1032.5" cy="72.75" r="4.1667"/>
<circle cx="1035.5" cy="72.75" r="4.1667"/>
<circle cx="1037.5" cy="72.75" r="4.1667"/>
<circle cx="1045.5" cy="72.75" r="4.1667"/>
<circle cx="1048.5" cy="72.75" r="4.1667"/>
<circle cx="1051.5" cy="72.75" r="4.1667"/>
<circle cx="1070.5" cy="72.75" r="4.1667"/>
<circle cx="1074.5" cy="72.75" r="4.1667"/>
<circle cx="1076.5" cy="72.75" r="4.1667"/>
<circle cx="1077.5" cy="72.75" r="4.1667"/>
<circle cx="1187.5" cy="72.75" r="4.1667"/>
<circle cx="1191.5" cy="72.75" r="4.1667"/>
<circle cx="1194.5" cy="72.75" r="4.1667"/>
<circle cx="1213.5" cy="72.75" r="4.1667"/>
<circle cx="937.5" cy="103.86" r="4.1667"/>
<circle cx="938.5" cy="103.86" r="4.1667"/>
<circle cx="939.5" cy="103.86" r="4.1667"/>
<circle cx="939.5" cy="103.86" r="4.1667"/>
<circle cx="940.5" cy="103.86" r="4.1667"/>
<circle cx="941.5" cy="103.86" r="4.1667"/>
<circle cx="942.5" cy="103.86" r="4.1667"/>
<circle cx="943.5" cy="103.86" r="4.1667"/>
<circle cx="944.5" cy="103.86" r="4.1667"/>
<circle cx="944.5" cy="103.86" r="4.1667"/>
<circle cx="945.5" cy="103.86" r="4.1667"/>
<circle cx="946.5" cy="103.86" r="4.1667"/>
<circle cx="947.5" cy="103.86" r="4.1667"/>
<circle cx="948.5" cy="103.86" r="4.1667"/>
<circle cx="949.5" cy="103.86" r="4.1667"/>
<circle cx="949.5" cy="103.86" r="4.1667"/>
<circle cx="950.5" cy="103.86" r="4.1667"/>
<circle cx="951.5" cy="103.86" r="4.1667"/>
<circle cx="952.5" cy="103.86" r="4.1667"/>
<circle cx="953.5" cy="103.86" r="4.1667"/>
<circle cx="954.5" cy="103.86" r="4.1667"/>
<circle cx="954.5" cy="103.86" r="4.1667"/>
<circle cx="955.5" cy="103.86" r="4.1667"/>
<circle cx="956.5" cy="103.86" r="4.1667"/>
<circle cx="957.5" cy="103.86" r="4.1667"/>
<circle cx="958.5" cy="103.86" r="4.1667"/>
<circle cx="958.5" cy="103.86" r="4.1667"/>
<circle cx="959.5" cy="103.86" r="4.1667"/>
<circle cx="960.5" cy="103.86" r="4.1667"/>
<circle cx="961.5" cy="103.86" r="4.1667"/>
<circle cx="962.5" cy="103.86" r="4.1667"/>
<circle cx="963.5" cy="103.86" r="4.1667"/>
<circle cx="963.5" cy="103.86" r="4.1667"/>
<circle cx="964.5" cy="103.86" r="4.1667"/>
<circle cx="965.5" cy="103.86" r="4.1667"/>
<circle cx="966.5" cy="103.86" r="4.1667"/>
<circle cx="967.5" cy="103.86" r="4.1667"/>
<circle cx="968.5" cy="103.86" r="4.1667"/>
<circle cx="968.5" cy="103.86" r="4.1667"/>
<circle cx="969.5" cy="103.86" r="4.1667"/>
<circle cx="970.5" cy="103.86" r="4.1667"/>
<circle cx="971.5" cy="103.86" r="4.1667"/>
<circle cx="972.5" cy="103.86" r="4.1667"/>
<circle cx="973.5" cy="103.86" r="4.1667"/>
<circle cx="973.5" cy="103.86" r="4.1667"/>
<circle cx="974.5" cy="103.86" r="4.1667"/>
<circle cx="975.5" cy="103.86" r="4.1667"/>
<circle cx="976.5" cy="103.86" r="4.1667"/>
<circle cx="977.5" cy="103.86" r="4.1667"/>
<circle cx="978.5" cy="103.86" r="4.1667"/>
<circle cx="982.5" cy="103.86" r="4.1667"/>
<circle cx="987.5" cy="103.86" r="4.1667"/>
<circle cx="992.5" cy="103.86" r="4.1667"/>
<circle cx="998.5" cy="103.86" r="4.1667"/>
<circle cx="1005.5" cy="103.86" r="4.1667"/>
<circle cx="1005.5" cy="103.86" r="4.1667"/>
<circle cx="1015.5" cy="103.86" r="4.1667"/>
<circle cx="1019.5" cy="103.86" r="4.1667"/>
<circle cx="1023.5" cy="103.86" r="4.1667"/>
<circle cx="1026.5" cy="103.86" r="4.1667"/>
<circle cx="1029.5" cy="103.86" r="4.1667"/>
<circle cx="1013.5" cy="103.86" r="4.1667"/>
<circle cx="1017.5" cy="103.86" r="4.1667"/>
<circle cx="1020.5" cy="103.86" r="4.1667"/>
<circle cx="1022.5" cy="103.86" r="4.1667"/>
<circle cx="1024.5" cy="103.86" r="4.1667"/>
<circle cx="1028.5" cy="103.86" r="4.1667"/>
<circle cx="1030.5" cy="103.86" r="4.1667"/>
<circle cx="1037.5" cy="103.86" r="4.1667"/>
<circle cx="1040.5" cy="103.86" r="4.1667"/>
<circle cx="1043.5" cy="103.86" r="4.1667"/>
<circle cx="1046.5" cy="103.86" r="4.1667"/>
<circle cx="1049.5" cy="103.86" r="4.1667"/>
<circle cx="1051.5" cy="103.86" r="4.1667"/>
<circle cx="1060.5" cy="103.86" r="4.1667"/>
<circle cx="1069.5" cy="103.86" r="4.1667"/>
<circle cx="1071.5" cy="103.86" r="4.1667"/>
<circle cx="1079.5" cy="103.86" r="4.1667"/>
<circle cx="1135.5" cy="103.86" r="4.1667"/>
<circle cx="1173.5" cy="103.86" r="4.1667"/>
<circle cx="1176.5" cy="103.86" r="4.1667"/>
<circle cx="937.5" cy="134.97" r="4.1667"/>
<circle cx="938.5" cy="134.97" r="4.1667"/>
<circle cx="939.5" cy="134.97" r="4.1667"/>
<circle cx="939.5" cy="134.97" r="4.1667"/>
<circle cx="940.5" cy="134.97" r="4.1667"/>
<circle cx="941.5" cy="134.97" r="4.1667"/>
<circle cx="942.5" cy="134.97" r="4.1667"/>
<circle cx="943.5" cy="134.97" r="4.1667"/>
<circle cx="943.5" cy="134.97" r="4.1667"/>
<circle cx="944.5" cy="134.97" r="4.1667"/>
<circle cx="945.5" cy="134.97" r="4.1667"/>
<circle cx="946.5" cy="134.97" r="4.1667"/>
<circle cx="947.5" cy="134.97" r="4.1667"/>
<circle cx="947.5" cy="134.97" r="4.1667"/>
<circle cx="948.5" cy="134.97" r="4.1667"/>
<circle cx="949.5" cy="134.97" r="4.1667"/>
<circle cx="950.5" cy="134.97" r="4.1667"/>
<circle cx="951.5" cy="134.97" r="4.1667"/>
<circle cx="952.5" cy="134.97" r="4.1667"/>
<circle cx="952.5" cy="134.97" r="4.1667"/>
<circle cx="953.5" cy="134.97" r="4.1667"/>
<circle cx="954.5" cy="134.97" r="4.1667"/>
<circle cx="955.5" cy="134.97" r="4.1667"/>
<circle cx="956.5" cy="134.97" r="4.1667"/>
<circle cx="956.5" cy="134.97" r="4.1667"/>
<circle cx="957.5" cy="134.97" r="4.1667"/>
<circle cx="958.5" cy="134.97" r="4.1667"/>
<circle cx="959.5" cy="134.97" r="4.1667"/>
<circle cx="960.5" cy="134.97" r="4.1667"/>
<circle cx="960.5" cy="134.97" r="4.1667"/>
<circle cx="961.5" cy="134.97" r="4.1667"/>
<circle cx="962.5" cy="134.97" r="4.1667"/>
<circle cx="963.5" cy="134.97" r="4.1667"/>
<circle cx="964.5" cy="134.97" r="4.1667"/>
<circle cx="964.5" cy="134.97" r="4.1667"/>
<circle cx="965.5" cy="134.97" r="4.1667"/>
<circle cx="966.5" cy="134.97" r="4.1667"/>
<circle cx="967.5" cy="134.97" r="4.1667"/>
<circle cx="968.5" cy="134.97" r="4.1667"/>
<circle cx="968.5" cy="134.97" r="4.1667"/>
<circle cx="969.5" cy="134.97" r="4.1667"/>
<circle cx="970.5" cy="134.97" r="4.1667"/>
<circle cx="971.5" cy="134.97" r="4.1667"/>
<circle cx="972.5" cy="134.97" r="4.1667"/>
<circle cx="972.5" cy="134.97" r="4.1667"/>
<circle cx="973.5" cy="134.97" r="4.1667"/>
<circle cx="974.5" cy="134.97" r="4.1667"/>
<circle cx="975.5" cy="134.97" r="4.1667"/>
<circle cx="976.5" cy="134.97" r="4.1667"/>
<circle cx="977.5" cy="134.97" r="4.1667"/>
<circle cx="981.5" cy="134.97" r="4.1667"/>
<circle cx="986.5" cy="134.97" r="4.1667"/>
<circle cx="990.5" cy="134.97" r="4.1667"/>
<circle cx="995.5" cy="134.97" r="4.1667"/>
<circle cx="1000.5" cy="134.97" r="4.1667"/>
<circle cx="1003.5" cy="134.97" r="4.1667"/>
<circle cx="1005.5" cy="134.97" r="4.1667"/>
<circle cx="1009.5" cy="134.97" r="4.1667"/>
<circle cx="1012.5" cy="134.97" r="4.1667"/>
<circle cx="1020.5" cy="134.97" r="4.1667"/>
<circle cx="1024.5" cy="134.97" r="4.1667"/>
<circle cx="1007.5" cy="134.97" r="4.1667"/>
<circle cx="1010.5" cy="134.97" r="4.1667"/>
<circle cx="1014.5" cy="134.97" r="4.1667"/>
<circle cx="1016.5" cy="134.97" r="4.1667"/>
<circle cx="1018.5" cy="134.97" r="4.1667"/>
<circle cx="1022.5" cy="134.97" r="4.1667"/>
<circle cx="1025.5" cy="134.97" r="4.1667"/>
<circle cx="1027.5" cy="134.97" r="4.1667"/>
<circle cx="1033.5" cy="134.97" r="4.1667"/>
<circle cx="1036.5" cy="134.97" r="4.1667"/>
<circle cx="1040.5" cy="134.97" r="4.1667"/>
<circle cx="1043.5" cy="134.97" r="4.1667"/>
<circle cx="1051.5" cy="134.97" r="4.1667"/>
<circle cx="1059.5" cy="134.97" r="4.1667"/>
<circle cx="1069.5" cy="134.97" r="4.1667"/>
<circle cx="1071.5" cy="134.97" r="4.1667"/>
<circle cx="1072.5" cy="134.97" r="4.1667"/>
<circle cx="1076.5" cy="134.97" r="4.1667"/>
<circle cx="1084.5" cy="134.97" r="4.1667"/>
<circle cx="1113.5" cy="134.97" r="4.1667"/>
<circle cx="1141.5" cy="134.97" r="4.1667"/>
<circle cx="1224.5" cy="134.97" r="4.1667"/>
<circle cx="1232.5" cy="134.97" r="4.1667"/>
<circle cx="937.5" cy="166.08" r="4.1667"/>
<circle cx="938.5" cy="166.08" r="4.1667"/>
<circle cx="939.5" cy="166.08" r="4.1667"/>
<circle cx="940.5" cy="166.08" r="4.1667"/>
<circle cx="941.5" cy="166.08" r="4.1667"/>
<circle cx="942.5" cy="166.08" r="4.1667"/>
<circle cx="943.5" cy="166.08" r="4.1667"/>
<circle cx="944.5" cy="166.08" r="4.1667"/>
<circle cx="945.5" cy="166.08" r="4.1667"/>
<circle cx="946.5" cy="166.08" r="4.1667"/>
<circle cx="947.5" cy="166.08" r="4.1667"/>
<circle cx="948.5" cy="166.08" r="4.1667"/>
<circle cx="949.5" cy="166.08" r="4.1667"/>
<circle cx="950.5" cy="166.08" r="4.1667"/>
<circle cx="951.5" cy="166.08" r="4.1667"/>
<circle cx="952.5" cy="166.08" r="4.1667"/>
<circle cx="953.5" cy="166.08" r="4.1667"/>
<circle cx="954.5" cy="166.08" r="4.1667"/>
<circle cx="955.5" cy="166.08" r="4.1667"/>
<circle cx="956.5" cy="166.08" r="4.1667"/>
<circle cx="956.5" cy="166.08" r="4.1667"/>
<circle cx="957.5" cy="166.08" r="4.1667"/>
<circle cx="958.5" cy="166.08" r="4.1667"/>
<circle cx="959.5" cy="166.08" r="4.1667"/>
<circle cx="960.5" cy="166.08" r="4.1667"/>
<circle cx="961.5" cy="166.08" r="4.1667"/>
<circle cx="962.5" cy="166.08" r="4.1667"/>
<circle cx="963.5" cy="166.08" r="4.1667"/>
<circle cx="964.5" cy="166.08" r="4.1667"/>
<circle cx="965.5" cy="166.08" r="4.1667"/>
<circle cx="966.5" cy="166.08" r="4.1667"/>
<circle cx="967.5" cy="166.08" r="4.1667"/>
<circle cx="968.5" cy="166.08" r="4.1667"/>
<circle cx="969.5" cy="166.08" r="4.1667"/>
<circle cx="970.5" cy="166.08" r="4.1667"/>
<circle cx="971.5" cy="166.08" r="4.1667"/>
<circle cx="972.5" cy="166.08" r="4.1667"/>
<circle cx="973.5" cy="166.08" r="4.1667"/>
<circle cx="974.5" cy="166.08" r="4.1667"/>
<circle cx="975.5" cy="166.08" r="4.1667"/>
<circle cx="976.5" cy="166.08" r="4.1667"/>
<circle cx="977.5" cy="166.08" r="4.1667"/>
<circle cx="978.5" cy="166.08" r="4.1667"/>
<circle cx="979.5" cy="166.08" r="4.1667"/>
<circle cx="980.5" cy="166.08" r="4.1667"/>
<circle cx="981.5" cy="166.08" r="4.1667"/>
<circle cx="982.5" cy="166.08" r="4.1667"/>
<circle cx="983.5" cy="166.08" r="4.1667"/>
<circle cx="984.5" cy="166.08" r="4.1667"/>
<circle cx="985.5" cy="166.08" r="4.1667"/>
<circle cx="986.5" cy="166.08" r="4.1667"/>
<circle cx="987.5" cy="166.08" r="4.1667"/>
<circle cx="988.5" cy="166.08" r="4.1667"/>
<circle cx="989.5" cy="166.08" r="4.1667"/>
<circle cx="990.5" cy="166.08" r="4.1667"/>
<circle cx="991.5" cy="166.08" r="4.1667"/>
<circle cx="992.5" cy="166.08" r="4.1667"/>
<circle cx="993.5" cy="166.08" r="4.1667"/>
<circle cx="994.5" cy="166.08" r="4.1667"/>
<circle cx="995.5" cy="166.08" r="4.1667"/>
<circle cx="999.5" cy="166.08" r="4.1667"/>
<circle cx="999.5" cy="166.08" r="4.1667"/>
<circle cx="1002.5" cy="166.08" r="4.1667"/>
<circle cx="1012.5" cy="166.08" r="4.1667"/>
<circle cx="1012.5" cy="166.08" r="4.1667"/>
<circle cx="1024.5" cy="166.08" r="4.1667"/>
<circle cx="1027.5" cy="166.08" r="4.1667"/>
<circle cx="1027.5" cy="166.08" r="4.1667"/>
<circle cx="1035.5" cy="166.08" r="4.1667"/>
<circle cx="1036.5" cy="166.08" r="4.1667"/>
<circle cx="1036.5" cy="166.08" r="4.1667"/>
<circle cx="1041.5" cy="166.08" r="4.1667"/>
<circle cx="1048.5" cy="166.08" r="4.1667"/>
<circle cx="1056.5" cy="166.08" r="4.1667"/>
<circle cx="1070.5" cy="166.08" r="4.1667"/>
<circle cx="1076.5" cy="166.08" r="4.1667"/>
<circle cx="1076.5" cy="166.08" r="4.1667"/>
<circle cx="1098.5" cy="166.08" r="4.1667"/>
<circle cx="1100.5" cy="166.08" r="4.1667"/>
<circle cx="1108.5" cy="166.08" r="4.1667"/>
<circle cx="1123.5" cy="166.08" r="4.1667"/>
<circle cx="1140.5" cy="166.08" r="4.1667"/>
<circle cx="937.5" cy="197.19" r="4.1667"/>
<circle cx="938.5" cy="197.19" r="4.1667"/>
<circle cx="939.5" cy="197.19" r="4.1667"/>
<circle cx="940.5" cy="197.19" r="4.1667"/>
<circle cx="940.5" cy="197.19" r="4.1667"/>
<circle cx="941.5" cy="197.19" r="4.1667"/>
<circle cx="942.5" cy="197.19" r="4.1667"/>
<circle cx="943.5" cy="197.19" r="4.1667"/>
<circle cx="944.5" cy="197.19" r="4.1667"/>
<circle cx="945.5" cy="197.19" r="4.1667"/>
<circle cx="946.5" cy="197.19" r="4.1667"/>
<circle cx="947.5" cy="197.19" r="4.1667"/>
<circle cx="947.5" cy="197.19" r="4.1667"/>
<circle cx="948.5" cy="197.19" r="4.1667"/>
<circle cx="949.5" cy="197.19" r="4.1667"/>
<circle cx="950.5" cy="197.19" r="4.1667"/>
<circle cx="951.5" cy="197.19" r="4.1667"/>
<circle cx="952.5" cy="197.19" r="4.1667"/>
<circle cx="953.5" cy="197.19" r="4.1667"/>
<circle cx="953.5" cy="197.19" r="4.1667"/>
<circle cx="954.5" cy="197.19" r="4.1667"/>
<circle cx="955.5" cy="197.19" r="4.1667"/>
<circle cx="956.5" cy="197.19" r="4.1667"/>
<circle cx="957.5" cy="197.19" r="4.1667"/>
<circle cx="958.5" cy="197.19" r="4.1667"/>
<circle cx="959.5" cy="197.19" r="4.1667"/>
<circle cx="960.5" cy="197.19" r="4.1667"/>
<circle cx="960.5" cy="197.19" r="4.1667"/>
<circle cx="961.5" cy="197.19" r="4.1667"/>
<circle cx="962.5" cy="197.19" r="4.1667"/>
<circle cx="963.5" cy="197.19" r="4.1667"/>
<circle cx="964.5" cy="197.19" r="4.1667"/>
<circle cx="965.5" cy="197.19" r="4.1667"/>
<circle cx="966.5" cy="197.19" r="4.1667"/>
<circle cx="966.5" cy="197.19" r="4.1667"/>
<circle cx="967.5" cy="197.19" r="4.1667"/>
<circle cx="968.5" cy="197.19" r="4.1667"/>
<circle cx="969.5" cy="197.19" r="4.1667"/>
<circle cx="970.5" cy="197.19" r="4.1667"/>
<circle cx="971.5" cy="197.19" r="4.1667"/>
<circle cx="972.5" cy="197.19" r="4.1667"/>
<circle cx="973.5" cy="197.19" r="4.1667"/>
<circle cx="973.5" cy="197.19" r="4.1667"/>
<circle cx="974.5" cy="197.19" r="4.1667"/>
<circle cx="975.5" cy="197.19" r="4.1667"/>
<circle cx="976.5" cy="197.19" r="4.1667"/>
<circle cx="977.5" cy="197.19" r="4.1667"/>
<circle cx="978.5" cy="197.19" r="4.1667"/>
<circle cx="979.5" cy="197.19" r="4.1667"/>
<circle cx="980.5" cy="197.19" r="4.1667"/>
<circle cx="978.5" cy="197.19" r="4.1667"/>
<circle cx="981.5" cy="197.19" r="4.1667"/>
<circle cx="984.5" cy="197.19" r="4.1667"/>
<circle cx="984.5" cy="197.19" r="4.1667"/>
<circle cx="987.5" cy="197.19" r="4.1667"/>
<circle cx="987.5" cy="197.19" r="4.1667"/>
<circle cx="1011.5" cy="197.19" r="4.1667"/>
<circle cx="1015.5" cy="197.19" r="4.1667"/>
<circle cx="1019.5" cy="197.19" r="4.1667"/>
<circle cx="1024.5" cy="197.19" r="4.1667"/>
<circle cx="992.5" cy="197.19" r="4.1667"/>
<circle cx="997.5" cy="197.19" r="4.1667"/>
<circle cx="1003.5" cy="197.19" r="4.1667"/>
<circle cx="1008.5" cy="197.19" r="4.1667"/>
<circle cx="1013.5" cy="197.19" r="4.1667"/>
<circle cx="1013.5" cy="197.19" r="4.1667"/>
<circle cx="1022.5" cy="197.19" r="4.1667"/>
<circle cx="1022.5" cy="197.19" r="4.1667"/>
<circle cx="1028.5" cy="197.19" r="4.1667"/>
<circle cx="1035.5" cy="197.19" r="4.1667"/>
<circle cx="1039.5" cy="197.19" r="4.1667"/>
<circle cx="1043.5" cy="197.19" r="4.1667"/>
<circle cx="1043.5" cy="197.19" r="4.1667"/>
<circle cx="1054.5" cy="197.19" r="4.1667"/>
<circle cx="1058.5" cy="197.19" r="4.1667"/>
<circle cx="1063.5" cy="197.19" r="4.1667"/>
<circle cx="1064.5" cy="197.19" r="4.1667"/>
<circle cx="1070.5" cy="197.19" r="4.1667"/>
<circle cx="1080.5" cy="197.19" r="4.1667"/>
<circle cx="1084.5" cy="197.19" r="4.1667"/>
<circle cx="1087.5" cy="197.19" r="4.1667"/>
<circle cx="1130.5" cy="197.19" r="4.1667"/>
<circle cx="1173.5" cy="197.19" r="4.1667"/>
<circle cx="1193.5" cy="197.19" r="4.1667"/>
<circle cx="937.5" cy="228.31" r="4.1667"/>
<circle cx="938.5" cy="228.31" r="4.1667"/>
<circle cx="939.5" cy="228.31" r="4.1667"/>
<circle cx="940.5" cy="228.31" r="4.1667"/>
<circle cx="941.5" cy="228.31" r="4.1667"/>
<circle cx="942.5" cy="228.31" r="4.1667"/>
<circle cx="943.5" cy="228.31" r="4.1667"/>
<circle cx="944.5" cy="228.31" r="4.1667"/>
<circle cx="944.5" cy="228.31" r="4.1667"/>
<circle cx="945.5" cy="228.31" r="4.1667"/>
<circle cx="946.5" cy="228.31" r="4.1667"/>
<circle cx="947.5" cy="228.31" r="4.1667"/>
<circle cx="948.5" cy="228.31" r="4.1667"/>
<circle cx="949.5" cy="228.31" r="4.1667"/>
<circle cx="950.5" cy="228.31" r="4.1667"/>
<circle cx="951.5" cy="228.31" r="4.1667"/>
<circle cx="952.5" cy="228.31" r="4.1667"/>
<circle cx="953.5" cy="228.31" r="4.1667"/>
<circle cx="954.5" cy="228.31" r="4.1667"/>
<circle cx="955.5" cy="228.31" r="4.1667"/>
<circle cx="956.5" cy="228.31" r="4.1667"/>
<circle cx="957.5" cy="228.31" r="4.1667"/>
<circle cx="958.5" cy="228.31" r="4.1667"/>
<circle cx="959.5" cy="228.31" r="4.1667"/>
<circle cx="959.5" cy="228.31" r="4.1667"/>
<circle cx="960.5" cy="228.31" r="4.1667"/>
<circle cx="961.5" cy="228.31" r="4.1667"/>
<circle cx="962.5" cy="228.31" r="4.1667"/>
<circle cx="963.5" cy="228.31" r="4.1667"/>
<circle cx="964.5" cy="228.31" r="4.1667"/>
<circle cx="965.5" cy="228.31" r="4.1667"/>
<circle cx="966.5" cy="228.31" r="4.1667"/>
<circle cx="967.5" cy="228.31" r="4.1667"/>
<circle cx="968.5" cy="228.31" r="4.1667"/>
<circle cx="969.5" cy="228.31" r="4.1667"/>
<circle cx="970.5" cy="228.31" r="4.1667"/>
<circle cx="971.5" cy="228.31" r="4.1667"/>
<circle cx="972.5" cy="228.31" r="4.1667"/>
<circle cx="973.5" cy="228.31" r="4.1667"/>
<circle cx="973.5" cy="228.31" r="4.1667"/>
<circle cx="974.5" cy="228.31" r="4.1667"/>
<circle cx="975.5" cy="228.31" r="4.1667"/>
<circle cx="976.5" cy="228.31" r="4.1667"/>
<circle cx="977.5" cy="228.31" r="4.1667"/>
<circle cx="978.5" cy="228.31" r="4.1667"/>
<circle cx="979.5" cy="228.31" r="4.1667"/>
<circle cx="980.5" cy="228.31" r="4.1667"/>
<circle cx="981.5" cy="228.31" r="4.1667"/>
<circle cx="982.5" cy="228.31" r="4.1667"/>
<circle cx="983.5" cy="228.31" r="4.1667"/>
<circle cx="984.5" cy="228.31" r="4.1667"/>
<circle cx="985.5" cy="228.31" r="4.1667"/>
<circle cx="986.5" cy="228.31" r="4.1667"/>
<circle cx="987.5" cy="228.31" r="4.1667"/>
<circle cx="988.5" cy="228.31" r="4.1667"/>
<circle cx="992.5" cy="228.31" r="4.1667"/>
<circle cx="997.5" cy="228.31" r="4.1667"/>
<circle cx="1003.5" cy="228.31" r="4.1667"/>
<circle cx="1008.5" cy="228.31" r="4.1667"/>
<circle cx="1015.5" cy="228.31" r="4.1667"/>
<circle cx="1015.5" cy="228.31" r="4.1667"/>
<circle cx="1025.5" cy="228.31" r="4.1667"/>
<circle cx="1027.5" cy="228.31" r="4.1667"/>
<circle cx="1028.5" cy="228.31" r="4.1667"/>
<circle cx="1035.5" cy="228.31" r="4.1667"/>
<circle cx="1035.5" cy="228.31" r="4.1667"/>
<circle cx="1042.5" cy="228.31" r="4.1667"/>
<circle cx="1042.5" cy="228.31" r="4.1667"/>
<circle cx="1046.5" cy="228.31" r="4.1667"/>
<circle cx="1051.5" cy="228.31" r="4.1667"/>
<circle cx="1059.5" cy="228.31" r="4.1667"/>
<circle cx="1059.5" cy="228.31" r="4.1667"/>
<circle cx="1067.5" cy="228.31" r="4.1667"/>
<circle cx="1097.5" cy="228.31" r="4.1667"/>
<circle cx="1103.5" cy="228.31" r="4.1667"/>
<circle cx="1106.5" cy="228.31" r="4.1667"/>
<circle cx="1109.5" cy="228.31" r="4.1667"/>
<circle cx="1111.5" cy="228.31" r="4.1667"/>
<circle cx="1131.5" cy="228.31" r="4.1667"/>
<circle cx="1160.5" cy="228.31" r="4.1667"/>
<circle cx="1160.5" cy="228.31" r="4.1667"/>
<circle cx="1175.5" cy="228.31" r="4.1667"/>
<circle cx="937.5" cy="259.42" r="4.1667"/>
<circle cx="938.5" cy="259.42" r="4.1667"/>
<circle cx="939.5" cy="259.42" r="4.1667"/>
<circle cx="939.5" cy="259.42" r="4.1667"/>
<circle cx="940.5" cy="259.42" r="4.1667"/>
<circle cx="941.5" cy="259.42" r="4.1667"/>
<circle cx="942.5" cy="259.42" r="4.1667"/>
<circle cx="943.5" cy="259.42" r="4.1667"/>
<circle cx="944.5" cy="259.42" r="4.1667"/>
<circle cx="944.5" cy="259.42" r="4.1667"/>
<circle cx="945.5" cy="259.42" r="4.1667"/>
<circle cx="946.5" cy="259.42" r="4.1667"/>
<circle cx="947.5" cy="259.42" r="4.1667"/>
<circle cx="948.5" cy="259.42" r="4.1667"/>
<circle cx="949.5" cy="259.42" r="4.1667"/>
<circle cx="949.5" cy="259.42" r="4.1667"/>
<circle cx="950.5" cy="259.42" r="4.1667"/>
<circle cx="951.5" cy="259.42" r="4.1667"/>
<circle cx="952.5" cy="259.42" r="4.1667"/>
<circle cx="953.5" cy="259.42" r="4.1667"/>
<circle cx="954.5" cy="259.42" r="4.1667"/>
<circle cx="954.5" cy="259.42" r="4.1667"/>
<circle cx="955.5" cy="259.42" r="4.1667"/>
<circle cx="956.5" cy="259.42" r="4.1667"/>
<circle cx="957.5" cy="259.42" r="4.1667"/>
<circle cx="958.5" cy="259.42" r="4.1667"/>
<circle cx="958.5" cy="259.42" r="4.1667"/>
<circle cx="959.5" cy="259.42" r="4.1667"/>
<circle cx="960.5" cy="259.42" r="4.1667"/>
<circle cx="961.5" cy="259.42" r="4.1667"/>
<circle cx="962.5" cy="259.42" r="4.1667"/>
<circle cx="963.5" cy="259.42" r="4.1667"/>
<circle cx="963.5" cy="259.42" r="4.1667"/>
<circle cx="964.5" cy="259.42" r="4.1667"/>
<circle cx="965.5" cy="259.42" r="4.1667"/>
<circle cx="966.5" cy="259.42" r="4.1667"/>
<circle cx="967.5" cy="259.42" r="4.1667"/>
<circle cx="968.5" cy="259.42" r="4.1667"/>
<circle cx="968.5" cy="259.42" r="4.1667"/>
<circle cx="969.5" cy="259.42" r="4.1667"/>
<circle cx="970.5" cy="259.42" r="4.1667"/>
<circle cx="971.5" cy="259.42" r="4.1667"/>
<circle cx="972.5" cy="259.42" r="4.1667"/>
<circle cx="973.5" cy="259.42" r="4.1667"/>
<circle cx="973.5" cy="259.42" r="4.1667"/>
<circle cx="974.5" cy="259.42" r="4.1667"/>
<circle cx="975.5" cy="259.42" r="4.1667"/>
<circle cx="976.5" cy="259.42" r="4.1667"/>
<circle cx="977.5" cy="259.42" r="4.1667"/>
<circle cx="978.5" cy="259.42" r="4.1667"/>
<circle cx="983.5" cy="259.42" r="4.1667"/>
<circle cx="988.5" cy="259.42" r="4.1667"/>
<circle cx="993.5" cy="259.42" r="4.1667"/>
<circle cx="996.5" cy="259.42" r="4.1667"/>
<circle cx="996.5" cy="259.42" r="4.1667"/>
<circle cx="999.5" cy="259.42" r="4.1667"/>
<circle cx="1005.5" cy="259.42" r="4.1667"/>
<circle cx="1007.5" cy="259.42" r="4.1667"/>
<circle cx="1009.5" cy="259.42" r="4.1667"/>
<circle cx="1011.5" cy="259.42" r="4.1667"/>
<circle cx="1012.5" cy="259.42" r="4.1667"/>
<circle cx="1014.5" cy="259.42" r="4.1667"/>
<circle cx="1016.5" cy="259.42" r="4.1667"/>
<circle cx="1018.5" cy="259.42" r="4.1667"/>
<circle cx="1019.5" cy="259.42" r="4.1667"/>
<circle cx="1021.5" cy="259.42" r="4.1667"/>
<circle cx="1023.5" cy="259.42" r="4.1667"/>
<circle cx="1025.5" cy="259.42" r="4.1667"/>
<circle cx="1026.5" cy="259.42" r="4.1667"/>
<circle cx="1028.5" cy="259.42" r="4.1667"/>
<circle cx="1030.5" cy="259.42" r="4.1667"/>
<circle cx="1032.5" cy="259.42" r="4.1667"/>
<circle cx="1041.5" cy="259.42" r="4.1667"/>
<circle cx="1041.5" cy="259.42" r="4.1667"/>
<circle cx="1047.5" cy="259.42" r="4.1667"/>
<circle cx="1051.5" cy="259.42" r="4.1667"/>
<circle cx="1061.5" cy="259.42" r="4.1667"/>
<circle cx="1065.5" cy="259.42" r="4.1667"/>
<circle cx="1068.5" cy="259.42" r="4.1667"/>
<circle cx="1071.5" cy="259.42" r="4.1667"/>
<circle cx="1077.5" cy="259.42" r="4.1667"/>
<circle cx="1097.5" cy="259.42" r="4.1667"/>
<circle cx="1111.5" cy="259.42" r="4.1667"/>
<circle cx="1129.5" cy="259.42" r="4.1667"/>
<circle cx="1203.5" cy="259.42" r="4.1667"/>
<circle cx="937.5" cy="290.53" r="4.1667"/>
<circle cx="938.5" cy="290.53" r="4.1667"/>
<circle cx="939.5" cy="290.53" r="4.1667"/>
<circle cx="940.5" cy="290.53" r="4.1667"/>
<circle cx="940.5" cy="290.53" r="4.1667"/>
<circle cx="941.5" cy="290.53" r="4.1667"/>
<circle cx="942.5" cy="290.53" r="4.1667"/>
<circle cx="943.5" cy="290.53" r="4.1667"/>
<circle cx="944.5" cy="290.53" r="4.1667"/>
<circle cx="945.5" cy="290.53" r="4.1667"/>
<circle cx="945.5" cy="290.53" r="4.1667"/>
<circle cx="946.5" cy="290.53" r="4.1667"/>
<circle cx="947.5" cy="290.53" r="4.1667"/>
<circle cx="948.5" cy="290.53" r="4.1667"/>
<circle cx="949.5" cy="290.53" r="4.1667"/>
<circle cx="950.5" cy="290.53" r="4.1667"/>
<circle cx="950.5" cy="290.53" r="4.1667"/>
<circle cx="951.5" cy="290.53" r="4.1667"/>
<circle cx="952.5" cy="290.53" r="4.1667"/>
<circle cx="953.5" cy="290.53" r="4.1667"/>
<circle cx="954.5" cy="290.53" r="4.1667"/>
<circle cx="955.5" cy="290.53" r="4.1667"/>
<circle cx="956.5" cy="290.53" r="4.1667"/>
<circle cx="956.5" cy="290.53" r="4.1667"/>
<circle cx="957.5" cy="290.53" r="4.1667"/>
<circle cx="958.5" cy="290.53" r="4.1667"/>
<circle cx="959.5" cy="290.53" r="4.1667"/>
<circle cx="960.5" cy="290.53" r="4.1667"/>
<circle cx="961.5" cy="290.53" r="4.1667"/>
<circle cx="961.5" cy="290.53" r="4.1667"/>
<circle cx="962.5" cy="290.53" r="4.1667"/>
<circle cx="963.5" cy="290.53" r="4.1667"/>
<circle cx="964.5" cy="290.53" r="4.1667"/>
<circle cx="965.5" cy="290.53" r="4.1667"/>
<circle cx="966.5" cy="290.53" r="4.1667"/>
<circle cx="966.5" cy="290.53" r="4.1667"/>
<circle cx="967.5" cy="290.53" r="4.1667"/>
<circle cx="968.5" cy="290.53" r="4.1667"/>
<circle cx="969.5" cy="290.53" r="4.1667"/>
<circle cx="970.5" cy="290.53" r="4.1667"/>
<circle cx="971.5" cy="290.53" r="4.1667"/>
<circle cx="972.5" cy="290.53" r="4.1667"/>
<circle cx="972.5" cy="290.53" r="4.1667"/>
<circle cx="973.5" cy="290.53" r="4.1667"/>
<circle cx="974.5" cy="290.53" r="4.1667"/>
<circle cx="975.5" cy="290.53" r="4.1667"/>
<circle cx="976.5" cy="290.53" r="4.1667"/>
<circle cx="977.5" cy="290.53" r="4.1667"/>
<circle cx="977.5" cy="290.53" r="4.1667"/>
<circle cx="978.5" cy="290.53" r="4.1667"/>
<circle cx="979.5" cy="290.53" r="4.1667"/>
<circle cx="980.5" cy="290.53" r="4.1667"/>
<circle cx="981.5" cy="290.53" r="4.1667"/>
<circle cx="982.5" cy="290.53" r="4.1667"/>
<circle cx="983.5" cy="290.53" r="4.1667"/>
<circle cx="990.5" cy="290.53" r="4.1667"/>
<circle cx="1002.5" cy="290.53" r="4.1667"/>
<circle cx="1007.5" cy="290.53" r="4.1667"/>
<circle cx="1014.5" cy="290.53" r="4.1667"/>
<circle cx="1020.5" cy="290.53" r="4.1667"/>
<circle cx="1022.5" cy="290.53" r="4.1667"/>
<circle cx="1025.5" cy="290.53" r="4.1667"/>
<circle cx="1028.5" cy="290.53" r="4.1667"/>
<circle cx="1032.5" cy="290.53" r="4.1667"/>
<circle cx="1041.5" cy="290.53" r="4.1667"/>
<circle cx="1048.5" cy="290.53" r="4.1667"/>
<circle cx="1048.5" cy="290.53" r="4.1667"/>
<circle cx="1051.5" cy="290.53" r="4.1667"/>
<circle cx="1058.5" cy="290.53" r="4.1667"/>
<circle cx="1060.5" cy="290.53" r="4.1667"/>
<circle cx="1063.5" cy="290.53" r="4.1667"/>
<circle cx="1066.5" cy="290.53" r="4.1667"/>
<circle cx="1070.5" cy="290.53" r="4.1667"/>
<circle cx="1072.5" cy="290.53" r="4.1667"/>
<circle cx="1080.5" cy="290.53" r="4.1667"/>
<circle cx="1080.5" cy="290.53" r="4.1667"/>
<circle cx="1093.5" cy="290.53" r="4.1667"/>
<circle cx="1111.5" cy="290.53" r="4.1667"/>
<circle cx="1111.5" cy="290.53" r="4.1667"/>
<circle cx="1143.5" cy="290.53" r="4.1667"/>
<circle cx="1143.5" cy="290.53" r="4.1667"/>
<circle cx="1167.5" cy="290.53" r="4.1667"/>
<circle cx="1177.5" cy="290.53" r="4.1667"/>
<circle cx="1179.5" cy="290.53" r="4.1667"/>
<circle cx="937.5" cy="321.64" r="4.1667"/>
<circle cx="938.5" cy="321.64" r="4.1667"/>
<circle cx="939.5" cy="321.64" r="4.1667"/>
<circle cx="940.5" cy="321.64" r="4.1667"/>
<circle cx="940.5" cy="321.64" r="4.1667"/>
<circle cx="941.5" cy="321.64" r="4.1667"/>
<circle cx="942.5" cy="321.64" r="4.1667"/>
<circle cx="943.5" cy="321.64" r="4.1667"/>
<circle cx="944.5" cy="321.64" r="4.1667"/>
<circle cx="945.5" cy="321.64" r="4.1667"/>
<circle cx="945.5" cy="321.64" r="4.1667"/>
<circle cx="946.5" cy="321.64" r="4.1667"/>
<circle cx="947.5" cy="321.64" r="4.1667"/>
<circle cx="948.5" cy="321.64" r="4.1667"/>
<circle cx="949.5" cy="321.64" r="4.1667"/>
<circle cx="950.5" cy="321.64" r="4.1667"/>
<circle cx="951.5" cy="321.64" r="4.1667"/>
<circle cx="951.5" cy="321.64" r="4.1667"/>
<circle cx="952.5" cy="321.64" r="4.1667"/>
<circle cx="953.5" cy="321.64" r="4.1667"/>
<circle cx="954.5" cy="321.64" r="4.1667"/>
<circle cx="955.5" cy="321.64" r="4.1667"/>
<circle cx="956.5" cy="321.64" r="4.1667"/>
<circle cx="956.5" cy="321.64" r="4.1667"/>
<circle cx="957.5" cy="321.64" r="4.1667"/>
<circle cx="958.5" cy="321.64" r="4.1667"/>
<circle cx="959.5" cy="321.64" r="4.1667"/>
<circle cx="960.5" cy="321.64" r="4.1667"/>
<circle cx="961.5" cy="321.64" r="4.1667"/>
<circle cx="962.5" cy="321.64" r="4.1667"/>
<circle cx="962.5" cy="321.64" r="4.1667"/>
<circle cx="963.5" cy="321.64" r="4.1667"/>
<circle cx="964.5" cy="321.64" r="4.1667"/>
<circle cx="965.5" cy="321.64" r="4.1667"/>
<circle cx="966.5" cy="321.64" r="4.1667"/>
<circle cx="967.5" cy="321.64" r="4.1667"/>
<circle cx="967.5" cy="321.64" r="4.1667"/>
<circle cx="968.5" cy="321.64" r="4.1667"/>
<circle cx="969.5" cy="321.64" r="4.1667"/>
<circle cx="970.5" cy="321.64" r="4.1667"/>
<circle cx="971.5" cy="321.64" r="4.1667"/>
<circle cx="972.5" cy="321.64" r="4.1667"/>
<circle cx="973.5" cy="321.64" r="4.1667"/>
<circle cx="973.5" cy="321.64" r="4.1667"/>
<circle cx="974.5" cy="321.64" r="4.1667"/>
<circle cx="975.5" cy="321.64" r="4.1667"/>
<circle cx="976.5" cy="321.64" r="4.1667"/>
<circle cx="977.5" cy="321.64" r="4.1667"/>
<circle cx="978.5" cy="321.64" r="4.1667"/>
<circle cx="979.5" cy="321.64" r="4.1667"/>
<circle cx="984.5" cy="321.64" r="4.1667"/>
<circle cx="989.5" cy="321.64" r="4.1667"/>
<circle cx="998.5" cy="321.64" r="4.1667"/>
<circle cx="1002.5" cy="321.64" r="4.1667"/>
<circle cx="1002.5" cy="321.64" r="4.1667"/>
<circle cx="1010.5" cy="321.64" r="4.1667"/>
<circle cx="1015.5" cy="321.64" r="4.1667"/>
<circle cx="1019.5" cy="321.64" r="4.1667"/>
<circle cx="1023.5" cy="321.64" r="4.1667"/>
<circle cx="1026.5" cy="321.64" r="4.1667"/>
<circle cx="1029.5" cy="321.64" r="4.1667"/>
<circle cx="1032.5" cy="321.64" r="4.1667"/>
<circle cx="1040.5" cy="321.64" r="4.1667"/>
<circle cx="1040.5" cy="321.64" r="4.1667"/>
<circle cx="1043.5" cy="321.64" r="4.1667"/>
<circle cx="1046.5" cy="321.64" r="4.1667"/>
<circle cx="1046.5" cy="321.64" r="4.1667"/>
<circle cx="1053.5" cy="321.64" r="4.1667"/>
<circle cx="1058.5" cy="321.64" r="4.1667"/>
<circle cx="1064.5" cy="321.64" r="4.1667"/>
<circle cx="1064.5" cy="321.64" r="4.1667"/>
<circle cx="1076.5" cy="321.64" r="4.1667"/>
<circle cx="1079.5" cy="321.64" r="4.1667"/>
<circle cx="1079.5" cy="321.64" r="4.1667"/>
<circle cx="1084.5" cy="321.64" r="4.1667"/>
<circle cx="1113.5" cy="321.64" r="4.1667"/>
<circle cx="1137.5" cy="321.64" r="4.1667"/>
<circle cx="1165.5" cy="321.64" r="4.1667"/>
<circle cx="1250.5" cy="321.64" r="4.1667"/>
<circle cx="937.5" cy="352.75" r="4.1667"/>
<circle cx="938.5" cy="352.75" r="4.1667"/>
<circle cx="939.5" cy="352.75" r="4.1667"/>
<circle cx="940.5" cy="352.75" r="4.1667"/>
<circle cx="941.5" cy="352.75" r="4.1667"/>
<circle cx="943.5" cy="352.75" r="4.1667"/>
<circle cx="944.5" cy="352.75" r="4.1667"/>
<circle cx="945.5" cy="352.75" r="4.1667"/>
<circle cx="946.5" cy="352.75" r="4.1667"/>
<circle cx="947.5" cy="352.75" r="4.1667"/>
<circle cx="948.5" cy="352.75" r="4.1667"/>
<circle cx="949.5" cy="352.75" r="4.1667"/>
<circle cx="950.5" cy="352.75" r="4.1667"/>
<circle cx="951.5" cy="352.75" r="4.1667"/>
<circle cx="953.5" cy="352.75" r="4.1667"/>
<circle cx="954.5" cy="352.75" r="4.1667"/>
<circle cx="955.5" cy="352.75" r="4.1667"/>
<circle cx="956.5" cy="352.75" r="4.1667"/>
<circle cx="957.5" cy="352.75" r="4.1667"/>
<circle cx="958.5" cy="352.75" r="4.1667"/>
<circle cx="959.5" cy="352.75" r="4.1667"/>
<circle cx="960.5" cy="352.75" r="4.1667"/>
<circle cx="961.5" cy="352.75" r="4.1667"/>
<circle cx="963.5" cy="352.75" r="4.1667"/>
<circle cx="964.5" cy="352.75" r="4.1667"/>
<circle cx="965.5" cy="352.75" r="4.1667"/>
<circle cx="966.5" cy="352.75" r="4.1667"/>
<circle cx="967.5" cy="352.75" r="4.1667"/>
<circle cx="968.5" cy="352.75" r="4.1667"/>
<circle cx="969.5" cy="352.75" r="4.1667"/>
<circle cx="970.5" cy="352.75" r="4.1667"/>
<circle cx="971.5" cy="352.75" r="4.1667"/>
<circle cx="973.5" cy="352.75" r="4.1667"/>
<circle cx="974.5" cy="352.75" r="4.1667"/>
<circle cx="975.5" cy="352.75" r="4.1667"/>
<circle cx="976.5" cy="352.75" r="4.1667"/>
<circle cx="977.5" cy="352.75" r="4.1667"/>
<circle cx="978.5" cy="352.75" r="4.1667"/>
<circle cx="979.5" cy="352.75" r="4.1667"/>
<circle cx="980.5" cy="352.75" r="4.1667"/>
<circle cx="981.5" cy="352.75" r="4.1667"/>
<circle cx="982.5" cy="352.75" r="4.1667"/>
<circle cx="984.5" cy="352.75" r="4.1667"/>
<circle cx="985.5" cy="352.75" r="4.1667"/>
<circle cx="986.5" cy="352.75" r="4.1667"/>
<circle cx="987.5" cy="352.75" r="4.1667"/>
<circle cx="988.5" cy="352.75" r="4.1667"/>
<circle cx="989.5" cy="352.75" r="4.1667"/>
<circle cx="990.5" cy="352.75" r="4.1667"/>
<circle cx="991.5" cy="352.75" r="4.1667"/>
<circle cx="992.5" cy="352.75" r="4.1667"/>
<circle cx="994.5" cy="352.75" r="4.1667"/>
<circle cx="995.5" cy="352.75" r="4.1667"/>
<circle cx="996.5" cy="352.75" r="4.1667"/>
<circle cx="997.5" cy="352.75" r="4.1667"/>
<circle cx="998.5" cy="352.75" r="4.1667"/>
<circle cx="999.5" cy="352.75" r="4.1667"/>
<circle cx="1000.5" cy="352.75" r="4.1667"/>
<circle cx="1001.5" cy="352.75" r="4.1667"/>
<circle cx="1002.5" cy="352.75" r="4.1667"/>
<circle cx="1004.5" cy="352.75" r="4.1667"/>
<circle cx="1005.5" cy="352.75" r="4.1667"/>
<circle cx="1006.5" cy="352.75" r="4.1667"/>
<circle cx="1007.5" cy="352.75" r="4.1667"/>
<circle cx="1008.5" cy="352.75" r="4.1667"/>
<circle cx="1009.5" cy="352.75" r="4.1667"/>
<circle cx="1010.5" cy="352.75" r="4.1667"/>
<circle cx="1011.5" cy="352.75" r="4.1667"/>
<circle cx="1012.5" cy="352.75" r="4.1667"/>
<circle cx="1014.5" cy="352.75" r="4.1667"/>
<circle cx="1015.5" cy="352.75" r="4.1667"/>
<circle cx="1016.5" cy="352.75" r="4.1667"/>
<circle cx="1017.5" cy="352.75" r="4.1667"/>
<circle cx="1018.5" cy="352.75" r="4.1667"/>
<circle cx="1019.5" cy="352.75" r="4.1667"/>
<circle cx="1026.5" cy="352.75" r="4.1667"/>
<circle cx="1032.5" cy="352.75" r="4.1667"/>
<circle cx="1038.5" cy="352.75" r="4.1667"/>
<circle cx="1038.5" cy="352.75" r="4.1667"/>
<circle cx="1041.5" cy="352.75" r="4.1667"/>
<circle cx="1041.5" cy="352.75" r="4.1667"/>
<circle cx="1064.5" cy="352.75" r="4.1667"/>
<circle cx="1079.5" cy="352.75" r="4.1667"/>
<circle cx="1084.5" cy="352.75" r="4.1667"/>
<circle cx="1084.5" cy="352.75" r="4.1667"/>
<circle cx="1087.5" cy="352.75" r="4.1667"/>
<circle cx="1094.5" cy="352.75" r="4.1667"/>
<circle cx="1103.5" cy="352.75" r="4.1667"/>
<circle cx="1122.5" cy="352.75" r="4.1667"/>
<circle cx="1136.5" cy="352.75" r="4.1667"/>
<circle cx="1163.5" cy="352.75" r="4.1667"/>
<circle cx="1220.5" cy="352.75" r="4.1667"/>
<circle cx="1226.5" cy="352.75" r="4.1667"/>
</g><g fill="#ff7f0e" stroke="#ff7f0e" stroke-width="1.6" stroke-linejoin="round">
<path d="M993.5 62.50L1004.50 73.5L993.5 84.50L982.50 73.5Z"/>
<path d="M987.5 93.50L998.50 104.5L987.5 115.50L976.50 104.5Z"/>
<path d="M994.5 124.50L1005.50 135.5L994.5 146.50L983.50 135.5Z"/>
<path d="M986.5 156.50L997.50 167.5L986.5 178.50L975.50 167.5Z"/>
<path d="M1000.5 187.50L1011.50 198.5L1000.5 209.50L989.50 198.5Z"/>
<path d="M999.5 218.50L1010.50 229.5L999.5 240.50L988.50 229.5Z"/>
<path d="M985.5 249.50L996.50 260.5L985.5 271.50L974.50 260.5Z"/>
<path d="M996.5 280.50L1007.50 291.5L996.5 302.50L985.50 291.5Z"/>
<path d="M993.5 311.50L1004.50 322.5L993.5 333.50L982.50 322.5Z"/>
<path d="M996.5 342.50L1007.50 353.5L996.5 364.50L985.50 353.5Z"/>
</g></g>
<g shape-rendering="crispEdges" fill="#cccccc">
<rect x="169" y="58" width="322" height="3"/>
<rect x="169" y="366" width="322" height="3"/>
<rect x="169" y="58" width="3" height="311"/>
<rect x="488" y="58" width="3" height="311"/>
<rect x="552" y="58" width="322" height="3"/>
<rect x="552" y="366" width="322" height="3"/>
<rect x="552" y="58" width="3" height="311"/>
<rect x="871" y="58" width="3" height="311"/>
<rect x="935" y="58" width="322" height="3"/>
<rect x="935" y="366" width="322" height="3"/>
<rect x="935" y="58" width="3" height="311"/>
<rect x="1254" y="58" width="3" height="311"/>
</g>
<g fill="#262626">
<text transform="translate(179.90,42.71) scale(1.1873,1.0485)" style="font-family:'Liberation Serif', serif;font-style:normal;font-size:28px">Samples of size</text>
<text transform="translate(397.51,43.00) scale(1.0558,1.0345)" style="font-family:'Liberation Sans', sans-serif;font-style:italic;font-size:27px">n</text>
<text transform="translate(420.66,40.58) scale(1.2095,0.6878)" style="font-family:'Liberation Sans', sans-serif;font-style:normal;font-weight:bold;font-size:27px">=</text>
<text transform="translate(447.70,42.74) scale(1.0826,1.0526)" style="font-family:'Liberation Sans', sans-serif;font-style:normal;font-size:27px">10</text>
<text transform="translate(562.90,42.71) scale(1.1873,1.0485)" style="font-family:'Liberation Serif', serif;font-style:normal;font-size:28px">Samples of size</text>
<text transform="translate(780.51,43.00) scale(1.0558,1.0345)" style="font-family:'Liberation Sans', sans-serif;font-style:italic;font-size:27px">n</text>
<text transform="translate(803.66,40.58) scale(1.2095,0.6878)" style="font-family:'Liberation Sans', sans-serif;font-style:normal;font-weight:bold;font-size:27px">=</text>
<text transform="translate(830.99,42.72) scale(1.0729,1.0500)" style="font-family:'Liberation Sans', sans-serif;font-style:normal;font-size:27px">30</text>
<text transform="translate(936.90,42.71) scale(1.1873,1.0485)" style="font-family:'Liberation Serif', serif;font-style:normal;font-size:28px">Samples of size</text>
<text transform="translate(1154.51,43.00) scale(1.0558,1.0345)" style="font-family:'Liberation Sans', sans-serif;font-style:italic;font-size:27px">n</text>
<text transform="translate(1177.66,40.58) scale(1.2095,0.6878)" style="font-family:'Liberation Sans', sans-serif;font-style:normal;font-weight:bold;font-size:27px">=</text>
<text transform="translate(1204.67,42.74) scale(1.1007,1.0526)" style="font-family:'Liberation Sans', sans-serif;font-style:normal;font-size:27px">100</text>
<text transform="translate(36.00,82.59) scale(1.0936,0.9020)" style="font-family:'Liberation Serif', serif;font-style:normal;font-size:28px">sample 1</text>
<text transform="translate(35.99,113.59) scale(1.1039,0.9020)" style="font-family:'Liberation Serif', serif;font-style:normal;font-size:28px">sample 2</text>
<text transform="translate(35.99,144.59) scale(1.1044,0.9020)" style="font-family:'Liberation Serif', serif;font-style:normal;font-size:28px">sample 3</text>
<text transform="translate(35.99,175.59) scale(1.1013,0.9020)" style="font-family:'Liberation Serif', serif;font-style:normal;font-size:28px">sample 4</text>
<text transform="translate(35.99,206.59) scale(1.1036,0.9020)" style="font-family:'Liberation Serif', serif;font-style:normal;font-size:28px">sample 5</text>
<text transform="translate(35.99,237.59) scale(1.1039,0.9020)" style="font-family:'Liberation Serif', serif;font-style:normal;font-size:28px">sample 6</text>
<text transform="translate(35.99,268.59) scale(1.1013,0.9020)" style="font-family:'Liberation Serif', serif;font-style:normal;font-size:28px">sample 7</text>
<text transform="translate(35.99,299.59) scale(1.1055,0.9020)" style="font-family:'Liberation Serif', serif;font-style:normal;font-size:28px">sample 8</text>
<text transform="translate(35.99,331.59) scale(1.1058,0.9020)" style="font-family:'Liberation Serif', serif;font-style:normal;font-size:28px">sample 9</text>
<text transform="translate(19.99,362.59) scale(1.1075,0.9020)" style="font-family:'Liberation Serif', serif;font-style:normal;font-size:28px">sample 10</text>
<text transform="translate(164.63,408.73) scale(1.0217,0.9563)" style="font-family:'Liberation Serif', serif;font-style:normal;font-size:28px">0</text>
<text transform="translate(262.36,408.76) scale(1.0808,0.9600)" style="font-family:'Liberation Serif', serif;font-style:normal;font-size:28px">10</text>
<text transform="translate(368.39,408.76) scale(1.0377,0.9584)" style="font-family:'Liberation Serif', serif;font-style:normal;font-size:28px">20</text>
<text transform="translate(475.58,408.74) scale(1.0307,0.9584)" style="font-family:'Liberation Serif', serif;font-style:normal;font-size:28px">30</text>
<text transform="translate(547.63,408.73) scale(1.0217,0.9563)" style="font-family:'Liberation Serif', serif;font-style:normal;font-size:28px">0</text>
<text transform="translate(645.36,408.76) scale(1.0808,0.9600)" style="font-family:'Liberation Serif', serif;font-style:normal;font-size:28px">10</text>
<text transform="translate(751.39,408.76) scale(1.0377,0.9584)" style="font-family:'Liberation Serif', serif;font-style:normal;font-size:28px">20</text>
<text transform="translate(857.58,408.74) scale(1.0307,0.9584)" style="font-family:'Liberation Serif', serif;font-style:normal;font-size:28px">30</text>
<text transform="translate(930.63,408.73) scale(1.0217,0.9563)" style="font-family:'Liberation Serif', serif;font-style:normal;font-size:28px">0</text>
<text transform="translate(1027.36,408.76) scale(1.0808,0.9600)" style="font-family:'Liberation Serif', serif;font-style:normal;font-size:28px">10</text>
<text transform="translate(1134.39,408.76) scale(1.0377,0.9584)" style="font-family:'Liberation Serif', serif;font-style:normal;font-size:28px">20</text>
<text transform="translate(1240.58,408.74) scale(1.0307,0.9584)" style="font-family:'Liberation Serif', serif;font-style:normal;font-size:28px">30</text>
</g>
</svg></body></html>
